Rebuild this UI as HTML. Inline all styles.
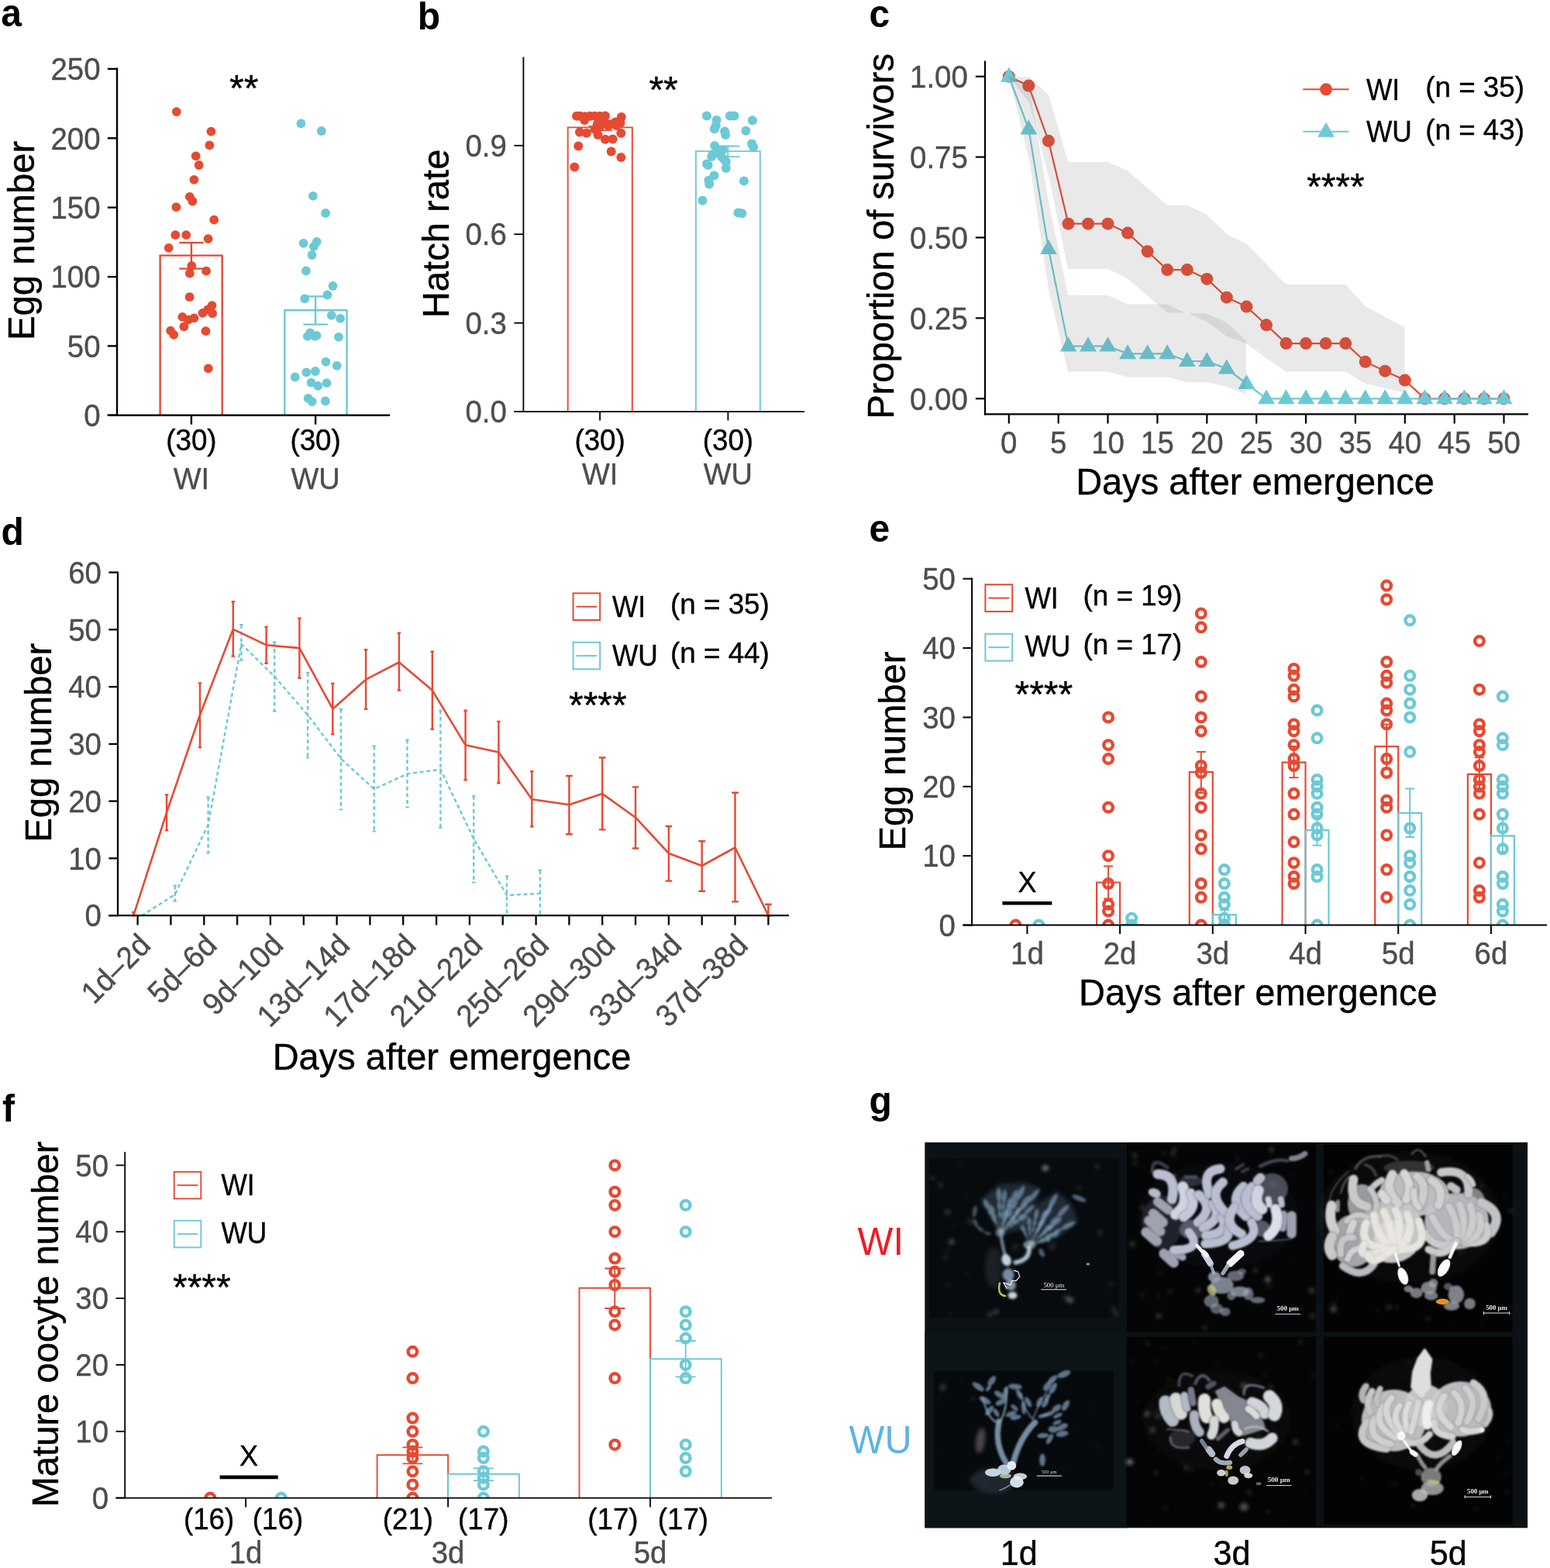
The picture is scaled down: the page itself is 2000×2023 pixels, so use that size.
<!DOCTYPE html>
<html><head><meta charset="utf-8"><title>Figure</title>
<style>
html,body{margin:0;padding:0;background:#fff;}
svg{display:block;font-family:"Liberation Sans", sans-serif;}
svg text{stroke-width:0.4px;stroke-linejoin:round;}
svg text.k{stroke:#000;} svg text.g{stroke:#4d4d4d;}
</style></head>
<body>
<svg width="2000" height="2023" viewBox="0 0 2000 2023">
<rect width="2000" height="2023" fill="#fff"/>
<text transform="translate(1.2 34.4) scale(0.97 1)" font-size="49.5" fill="#000" font-weight="bold" >a</text>
<text transform="translate(538.7 38.4) scale(0.97 1)" font-size="49.5" fill="#000" font-weight="bold" >b</text>
<text transform="translate(1121.6 34.5) scale(0.97 1)" font-size="49.5" fill="#000" font-weight="bold" >c</text>
<text transform="translate(1.5 703.3) scale(0.97 1)" font-size="49.5" fill="#000" font-weight="bold" >d</text>
<text transform="translate(1121.6 699.0) scale(0.97 1)" font-size="49.5" fill="#000" font-weight="bold" >e</text>
<text transform="translate(3.0 1447.2) scale(0.97 1)" font-size="49.5" fill="#000" font-weight="bold" >f</text>
<text transform="translate(1121.6 1437.1) scale(0.97 1)" font-size="49.5" fill="#000" font-weight="bold" >g</text>
<path d="M206.6 535.8V329.6H286.7V535.8" fill="none" stroke="#e54a33" stroke-width="2.4"/>
<path d="M367.3 535.8V400.2H447.5V535.8" fill="none" stroke="#6cc9d6" stroke-width="2.4"/>
<path d="M231.2 313.1H262.6M231.2 346.6H262.6M246.9 313.1V346.6" fill="none" stroke="#e54a33" stroke-width="2.4"/>
<path d="M391.4 382.4H422.9M391.4 418.6H422.9M407.1 382.4V418.6" fill="none" stroke="#6cc9d6" stroke-width="2.4"/>
<circle cx="227.8" cy="144.1" r="5.9" fill="#e54a33" stroke="none" stroke-width="0"/>
<circle cx="272.4" cy="169.6" r="5.9" fill="#e54a33" stroke="none" stroke-width="0"/>
<circle cx="270.3" cy="187.4" r="5.9" fill="#e54a33" stroke="none" stroke-width="0"/>
<circle cx="252.7" cy="201.3" r="5.9" fill="#e54a33" stroke="none" stroke-width="0"/>
<circle cx="256.7" cy="213.0" r="5.9" fill="#e54a33" stroke="none" stroke-width="0"/>
<circle cx="250.4" cy="231.8" r="5.9" fill="#e54a33" stroke="none" stroke-width="0"/>
<circle cx="244.8" cy="253.8" r="5.9" fill="#e54a33" stroke="none" stroke-width="0"/>
<circle cx="248.3" cy="259.5" r="5.9" fill="#e54a33" stroke="none" stroke-width="0"/>
<circle cx="227.4" cy="267.2" r="5.9" fill="#e54a33" stroke="none" stroke-width="0"/>
<circle cx="276.2" cy="283.6" r="5.9" fill="#e54a33" stroke="none" stroke-width="0"/>
<circle cx="226.3" cy="303.2" r="5.9" fill="#e54a33" stroke="none" stroke-width="0"/>
<circle cx="240.2" cy="303.2" r="5.9" fill="#e54a33" stroke="none" stroke-width="0"/>
<circle cx="268.6" cy="308.1" r="5.9" fill="#e54a33" stroke="none" stroke-width="0"/>
<circle cx="217.7" cy="319.8" r="5.9" fill="#e54a33" stroke="none" stroke-width="0"/>
<circle cx="247.3" cy="343.0" r="5.9" fill="#e54a33" stroke="none" stroke-width="0"/>
<circle cx="244.8" cy="352.7" r="5.9" fill="#e54a33" stroke="none" stroke-width="0"/>
<circle cx="266.1" cy="349.7" r="5.9" fill="#e54a33" stroke="none" stroke-width="0"/>
<circle cx="244.6" cy="383.2" r="5.9" fill="#e54a33" stroke="none" stroke-width="0"/>
<circle cx="273.5" cy="394.1" r="5.9" fill="#e54a33" stroke="none" stroke-width="0"/>
<circle cx="268.2" cy="399.4" r="5.9" fill="#e54a33" stroke="none" stroke-width="0"/>
<circle cx="261.5" cy="403.8" r="5.9" fill="#e54a33" stroke="none" stroke-width="0"/>
<circle cx="274.1" cy="404.4" r="5.9" fill="#e54a33" stroke="none" stroke-width="0"/>
<circle cx="235.3" cy="408.8" r="5.9" fill="#e54a33" stroke="none" stroke-width="0"/>
<circle cx="250.4" cy="410.3" r="5.9" fill="#e54a33" stroke="none" stroke-width="0"/>
<circle cx="243.1" cy="412.6" r="5.9" fill="#e54a33" stroke="none" stroke-width="0"/>
<circle cx="237.4" cy="421.4" r="5.9" fill="#e54a33" stroke="none" stroke-width="0"/>
<circle cx="220.1" cy="426.6" r="5.9" fill="#e54a33" stroke="none" stroke-width="0"/>
<circle cx="224.2" cy="431.8" r="5.9" fill="#e54a33" stroke="none" stroke-width="0"/>
<circle cx="265.5" cy="427.2" r="5.9" fill="#e54a33" stroke="none" stroke-width="0"/>
<circle cx="268.8" cy="475.4" r="5.9" fill="#e54a33" stroke="none" stroke-width="0"/>
<circle cx="388.4" cy="159.4" r="5.9" fill="#6cc9d6" stroke="none" stroke-width="0"/>
<circle cx="414.8" cy="169.0" r="5.9" fill="#6cc9d6" stroke="none" stroke-width="0"/>
<circle cx="403.9" cy="252.8" r="5.9" fill="#6cc9d6" stroke="none" stroke-width="0"/>
<circle cx="420.1" cy="275.0" r="5.9" fill="#6cc9d6" stroke="none" stroke-width="0"/>
<circle cx="391.6" cy="313.9" r="5.9" fill="#6cc9d6" stroke="none" stroke-width="0"/>
<circle cx="408.7" cy="312.0" r="5.9" fill="#6cc9d6" stroke="none" stroke-width="0"/>
<circle cx="404.8" cy="318.1" r="5.9" fill="#6cc9d6" stroke="none" stroke-width="0"/>
<circle cx="402.5" cy="329.0" r="5.9" fill="#6cc9d6" stroke="none" stroke-width="0"/>
<circle cx="394.9" cy="349.3" r="5.9" fill="#6cc9d6" stroke="none" stroke-width="0"/>
<circle cx="429.5" cy="369.0" r="5.9" fill="#6cc9d6" stroke="none" stroke-width="0"/>
<circle cx="422.4" cy="380.5" r="5.9" fill="#6cc9d6" stroke="none" stroke-width="0"/>
<circle cx="393.2" cy="385.3" r="5.9" fill="#6cc9d6" stroke="none" stroke-width="0"/>
<circle cx="427.8" cy="406.9" r="5.9" fill="#6cc9d6" stroke="none" stroke-width="0"/>
<circle cx="439.1" cy="410.9" r="5.9" fill="#6cc9d6" stroke="none" stroke-width="0"/>
<circle cx="400.2" cy="429.3" r="5.9" fill="#6cc9d6" stroke="none" stroke-width="0"/>
<circle cx="396.8" cy="433.9" r="5.9" fill="#6cc9d6" stroke="none" stroke-width="0"/>
<circle cx="408.5" cy="432.9" r="5.9" fill="#6cc9d6" stroke="none" stroke-width="0"/>
<circle cx="406.4" cy="433.9" r="5.9" fill="#6cc9d6" stroke="none" stroke-width="0"/>
<circle cx="437.0" cy="434.8" r="5.9" fill="#6cc9d6" stroke="none" stroke-width="0"/>
<circle cx="420.5" cy="466.8" r="5.9" fill="#6cc9d6" stroke="none" stroke-width="0"/>
<circle cx="434.7" cy="471.8" r="5.9" fill="#6cc9d6" stroke="none" stroke-width="0"/>
<circle cx="395.3" cy="480.4" r="5.9" fill="#6cc9d6" stroke="none" stroke-width="0"/>
<circle cx="406.9" cy="479.0" r="5.9" fill="#6cc9d6" stroke="none" stroke-width="0"/>
<circle cx="380.7" cy="486.5" r="5.9" fill="#6cc9d6" stroke="none" stroke-width="0"/>
<circle cx="401.6" cy="493.6" r="5.9" fill="#6cc9d6" stroke="none" stroke-width="0"/>
<circle cx="410.2" cy="497.8" r="5.9" fill="#6cc9d6" stroke="none" stroke-width="0"/>
<circle cx="421.5" cy="494.2" r="5.9" fill="#6cc9d6" stroke="none" stroke-width="0"/>
<circle cx="397.6" cy="513.9" r="5.9" fill="#6cc9d6" stroke="none" stroke-width="0"/>
<circle cx="402.7" cy="518.1" r="5.9" fill="#6cc9d6" stroke="none" stroke-width="0"/>
<circle cx="419.8" cy="517.3" r="5.9" fill="#6cc9d6" stroke="none" stroke-width="0"/>
<line x1="151.0" y1="87.6" x2="151.0" y2="537.0" stroke="#000" stroke-width="2.4" />
<line x1="138.8" y1="535.8" x2="503.2" y2="535.8" stroke="#000" stroke-width="2.4" />
<line x1="138.8" y1="535.8" x2="151.0" y2="535.8" stroke="#000" stroke-width="2.4" />
<text transform="translate(129.5 550.0) scale(0.965 1)" font-size="39.8" fill="#4d4d4d" class="g" text-anchor="end" >0</text>
<line x1="138.8" y1="446.4" x2="151.0" y2="446.4" stroke="#000" stroke-width="2.4" />
<text transform="translate(129.5 460.6) scale(0.965 1)" font-size="39.8" fill="#4d4d4d" class="g" text-anchor="end" >50</text>
<line x1="138.8" y1="357.1" x2="151.0" y2="357.1" stroke="#000" stroke-width="2.4" />
<text transform="translate(129.5 371.3) scale(0.965 1)" font-size="39.8" fill="#4d4d4d" class="g" text-anchor="end" >100</text>
<line x1="138.8" y1="267.7" x2="151.0" y2="267.7" stroke="#000" stroke-width="2.4" />
<text transform="translate(129.5 281.9) scale(0.965 1)" font-size="39.8" fill="#4d4d4d" class="g" text-anchor="end" >150</text>
<line x1="138.8" y1="178.3" x2="151.0" y2="178.3" stroke="#000" stroke-width="2.4" />
<text transform="translate(129.5 192.5) scale(0.965 1)" font-size="39.8" fill="#4d4d4d" class="g" text-anchor="end" >200</text>
<line x1="138.8" y1="88.9" x2="151.0" y2="88.9" stroke="#000" stroke-width="2.4" />
<text transform="translate(129.5 103.1) scale(0.965 1)" font-size="39.8" fill="#4d4d4d" class="g" text-anchor="end" >250</text>
<line x1="246.9" y1="535.8" x2="246.9" y2="547.6" stroke="#000" stroke-width="2.4" />
<line x1="407.1" y1="535.8" x2="407.1" y2="547.6" stroke="#000" stroke-width="2.4" />
<text transform="translate(246.9 580.8) scale(0.968 1)" font-size="38" fill="#000" class="k" text-anchor="middle" >(30)</text>
<text transform="translate(246.9 630.6) scale(0.984 1)" font-size="38.6" fill="#4d4d4d" class="g" text-anchor="middle" >WI</text>
<text transform="translate(407.1 580.8) scale(0.968 1)" font-size="38" fill="#000" class="k" text-anchor="middle" >(30)</text>
<text transform="translate(407.1 630.6) scale(0.984 1)" font-size="38.6" fill="#4d4d4d" class="g" text-anchor="middle" >WU</text>
<text transform="translate(43.6,310.4) rotate(-90) scale(0.975 1)" font-size="48.4" text-anchor="middle" fill="#000" class="k">Egg number</text>
<text x="314.8" y="130.3" font-size="48" fill="#000" class="k" text-anchor="middle" >**</text>
<path d="M732.7 531.1V164.4H815.8V531.1" fill="none" stroke="#e54a33" stroke-width="1.9"/>
<path d="M897.9 531.1V195.1H980.8V531.1" fill="none" stroke="#6cc9d6" stroke-width="1.9"/>
<path d="M759.7 162.9H790.3M759.7 168.1H790.3M775.0 162.9V168.1" fill="none" stroke="#e54a33" stroke-width="1.9"/>
<path d="M924.2 188.5H954.2M924.2 202.1H954.2M939.2 188.5V202.1" fill="none" stroke="#6cc9d6" stroke-width="1.9"/>
<circle cx="744.0" cy="149.8" r="6.0" fill="#e54a33" stroke="none" stroke-width="0"/>
<circle cx="748.7" cy="149.8" r="6.0" fill="#e54a33" stroke="none" stroke-width="0"/>
<circle cx="755.0" cy="150.3" r="6.0" fill="#e54a33" stroke="none" stroke-width="0"/>
<circle cx="761.3" cy="149.8" r="6.0" fill="#e54a33" stroke="none" stroke-width="0"/>
<circle cx="767.5" cy="149.8" r="6.0" fill="#e54a33" stroke="none" stroke-width="0"/>
<circle cx="773.8" cy="149.8" r="6.0" fill="#e54a33" stroke="none" stroke-width="0"/>
<circle cx="780.9" cy="149.5" r="6.0" fill="#e54a33" stroke="none" stroke-width="0"/>
<circle cx="754.2" cy="155.0" r="6.0" fill="#e54a33" stroke="none" stroke-width="0"/>
<circle cx="801.8" cy="151.1" r="6.0" fill="#e54a33" stroke="none" stroke-width="0"/>
<circle cx="800.5" cy="158.6" r="6.0" fill="#e54a33" stroke="none" stroke-width="0"/>
<circle cx="794.2" cy="157.4" r="6.0" fill="#e54a33" stroke="none" stroke-width="0"/>
<circle cx="788.0" cy="160.5" r="6.0" fill="#e54a33" stroke="none" stroke-width="0"/>
<circle cx="781.7" cy="158.9" r="6.0" fill="#e54a33" stroke="none" stroke-width="0"/>
<circle cx="775.4" cy="157.4" r="6.0" fill="#e54a33" stroke="none" stroke-width="0"/>
<circle cx="770.7" cy="160.5" r="6.0" fill="#e54a33" stroke="none" stroke-width="0"/>
<circle cx="773.8" cy="163.7" r="6.0" fill="#e54a33" stroke="none" stroke-width="0"/>
<circle cx="767.5" cy="166.8" r="6.0" fill="#e54a33" stroke="none" stroke-width="0"/>
<circle cx="747.9" cy="170.4" r="6.0" fill="#e54a33" stroke="none" stroke-width="0"/>
<circle cx="756.9" cy="171.8" r="6.0" fill="#e54a33" stroke="none" stroke-width="0"/>
<circle cx="771.5" cy="173.9" r="6.0" fill="#e54a33" stroke="none" stroke-width="0"/>
<circle cx="801.3" cy="171.8" r="6.0" fill="#e54a33" stroke="none" stroke-width="0"/>
<circle cx="780.9" cy="179.7" r="6.0" fill="#e54a33" stroke="none" stroke-width="0"/>
<circle cx="790.6" cy="179.4" r="6.0" fill="#e54a33" stroke="none" stroke-width="0"/>
<circle cx="746.3" cy="188.5" r="6.0" fill="#e54a33" stroke="none" stroke-width="0"/>
<circle cx="788.7" cy="195.4" r="6.0" fill="#e54a33" stroke="none" stroke-width="0"/>
<circle cx="801.3" cy="202.9" r="6.0" fill="#e54a33" stroke="none" stroke-width="0"/>
<circle cx="741.3" cy="215.5" r="6.0" fill="#e54a33" stroke="none" stroke-width="0"/>
<circle cx="778.5" cy="154.2" r="6.0" fill="#e54a33" stroke="none" stroke-width="0"/>
<circle cx="784.8" cy="162.1" r="6.0" fill="#e54a33" stroke="none" stroke-width="0"/>
<circle cx="795.8" cy="162.1" r="6.0" fill="#e54a33" stroke="none" stroke-width="0"/>
<circle cx="912.0" cy="149.5" r="6.0" fill="#6cc9d6" stroke="none" stroke-width="0"/>
<circle cx="941.9" cy="149.5" r="6.0" fill="#6cc9d6" stroke="none" stroke-width="0"/>
<circle cx="947.4" cy="149.5" r="6.0" fill="#6cc9d6" stroke="none" stroke-width="0"/>
<circle cx="924.6" cy="155.0" r="6.0" fill="#6cc9d6" stroke="none" stroke-width="0"/>
<circle cx="970.9" cy="155.3" r="6.0" fill="#6cc9d6" stroke="none" stroke-width="0"/>
<circle cx="923.8" cy="162.1" r="6.0" fill="#6cc9d6" stroke="none" stroke-width="0"/>
<circle cx="921.8" cy="166.3" r="6.0" fill="#6cc9d6" stroke="none" stroke-width="0"/>
<circle cx="935.1" cy="169.5" r="6.0" fill="#6cc9d6" stroke="none" stroke-width="0"/>
<circle cx="936.1" cy="173.9" r="6.0" fill="#6cc9d6" stroke="none" stroke-width="0"/>
<circle cx="962.4" cy="168.7" r="6.0" fill="#6cc9d6" stroke="none" stroke-width="0"/>
<circle cx="922.2" cy="188.0" r="6.0" fill="#6cc9d6" stroke="none" stroke-width="0"/>
<circle cx="970.1" cy="185.6" r="6.0" fill="#6cc9d6" stroke="none" stroke-width="0"/>
<circle cx="972.2" cy="190.0" r="6.0" fill="#6cc9d6" stroke="none" stroke-width="0"/>
<circle cx="932.4" cy="193.5" r="6.0" fill="#6cc9d6" stroke="none" stroke-width="0"/>
<circle cx="919.9" cy="199.0" r="6.0" fill="#6cc9d6" stroke="none" stroke-width="0"/>
<circle cx="918.3" cy="202.1" r="6.0" fill="#6cc9d6" stroke="none" stroke-width="0"/>
<circle cx="930.9" cy="202.1" r="6.0" fill="#6cc9d6" stroke="none" stroke-width="0"/>
<circle cx="934.0" cy="205.3" r="6.0" fill="#6cc9d6" stroke="none" stroke-width="0"/>
<circle cx="936.8" cy="208.4" r="6.0" fill="#6cc9d6" stroke="none" stroke-width="0"/>
<circle cx="912.0" cy="211.6" r="6.0" fill="#6cc9d6" stroke="none" stroke-width="0"/>
<circle cx="913.6" cy="213.1" r="6.0" fill="#6cc9d6" stroke="none" stroke-width="0"/>
<circle cx="936.8" cy="217.1" r="6.0" fill="#6cc9d6" stroke="none" stroke-width="0"/>
<circle cx="921.5" cy="226.5" r="6.0" fill="#6cc9d6" stroke="none" stroke-width="0"/>
<circle cx="914.4" cy="232.8" r="6.0" fill="#6cc9d6" stroke="none" stroke-width="0"/>
<circle cx="915.2" cy="237.5" r="6.0" fill="#6cc9d6" stroke="none" stroke-width="0"/>
<circle cx="959.9" cy="233.4" r="6.0" fill="#6cc9d6" stroke="none" stroke-width="0"/>
<circle cx="906.5" cy="258.7" r="6.0" fill="#6cc9d6" stroke="none" stroke-width="0"/>
<circle cx="952.4" cy="274.4" r="6.0" fill="#6cc9d6" stroke="none" stroke-width="0"/>
<circle cx="957.3" cy="275.2" r="6.0" fill="#6cc9d6" stroke="none" stroke-width="0"/>
<circle cx="927.7" cy="196.6" r="6.0" fill="#6cc9d6" stroke="none" stroke-width="0"/>
<line x1="675.4" y1="73.4" x2="675.4" y2="532.0" stroke="#000" stroke-width="1.8" />
<line x1="663.4" y1="531.1" x2="1038.0" y2="531.1" stroke="#000" stroke-width="1.8" />
<line x1="663.4" y1="531.1" x2="675.4" y2="531.1" stroke="#000" stroke-width="1.8" />
<text transform="translate(653.9 545.3) scale(0.965 1)" font-size="39.8" fill="#4d4d4d" class="g" text-anchor="end" >0.0</text>
<line x1="663.4" y1="416.7" x2="675.4" y2="416.7" stroke="#000" stroke-width="1.8" />
<text transform="translate(653.9 430.9) scale(0.965 1)" font-size="39.8" fill="#4d4d4d" class="g" text-anchor="end" >0.3</text>
<line x1="663.4" y1="302.2" x2="675.4" y2="302.2" stroke="#000" stroke-width="1.8" />
<text transform="translate(653.9 316.4) scale(0.965 1)" font-size="39.8" fill="#4d4d4d" class="g" text-anchor="end" >0.6</text>
<line x1="663.4" y1="187.8" x2="675.4" y2="187.8" stroke="#000" stroke-width="1.8" />
<text transform="translate(653.9 201.9) scale(0.965 1)" font-size="39.8" fill="#4d4d4d" class="g" text-anchor="end" >0.9</text>
<line x1="774.1" y1="531.1" x2="774.1" y2="542.5" stroke="#000" stroke-width="1.8" />
<line x1="939.4" y1="531.1" x2="939.4" y2="542.5" stroke="#000" stroke-width="1.8" />
<text transform="translate(774.1 580.8) scale(0.968 1)" font-size="38" fill="#000" class="k" text-anchor="middle" >(30)</text>
<text transform="translate(774.1 625.0) scale(0.984 1)" font-size="38.6" fill="#4d4d4d" class="g" text-anchor="middle" >WI</text>
<text transform="translate(939.4 580.8) scale(0.968 1)" font-size="38" fill="#000" class="k" text-anchor="middle" >(30)</text>
<text transform="translate(939.4 625.0) scale(0.984 1)" font-size="38.6" fill="#4d4d4d" class="g" text-anchor="middle" >WU</text>
<text transform="translate(579.3,301.4) rotate(-90) scale(0.975 1)" font-size="48.4" text-anchor="middle" fill="#000" class="k">Hatch rate</text>
<text x="856.1" y="132.4" font-size="48" fill="#000" class="k" text-anchor="middle" >**</text>
<polyline points="1301.8,98.7 1327.3,110.6 1352.9,181.8 1378.5,288.7 1404.0,288.7 1429.5,288.7 1455.1,300.6 1480.6,324.3 1506.2,348.1 1531.8,348.1 1557.3,359.9 1582.8,383.7 1608.4,395.6 1634.0,419.3 1659.5,443.1 1685.0,443.1 1710.6,443.1 1736.2,443.1 1761.7,466.8 1787.2,478.7 1812.8,490.6 1838.3,514.3 1863.9,514.3 1889.4,514.3 1915.0,514.3 1940.5,514.3" fill="none" stroke="#e54a33" stroke-width="2.2" stroke-linejoin="round"/>
<circle cx="1301.8" cy="98.7" r="8.0" fill="#e54a33" stroke="none" stroke-width="0"/>
<circle cx="1327.3" cy="110.6" r="8.0" fill="#e54a33" stroke="none" stroke-width="0"/>
<circle cx="1352.9" cy="181.8" r="8.0" fill="#e54a33" stroke="none" stroke-width="0"/>
<circle cx="1378.5" cy="288.7" r="8.0" fill="#e54a33" stroke="none" stroke-width="0"/>
<circle cx="1404.0" cy="288.7" r="8.0" fill="#e54a33" stroke="none" stroke-width="0"/>
<circle cx="1429.5" cy="288.7" r="8.0" fill="#e54a33" stroke="none" stroke-width="0"/>
<circle cx="1455.1" cy="300.6" r="8.0" fill="#e54a33" stroke="none" stroke-width="0"/>
<circle cx="1480.6" cy="324.3" r="8.0" fill="#e54a33" stroke="none" stroke-width="0"/>
<circle cx="1506.2" cy="348.1" r="8.0" fill="#e54a33" stroke="none" stroke-width="0"/>
<circle cx="1531.8" cy="348.1" r="8.0" fill="#e54a33" stroke="none" stroke-width="0"/>
<circle cx="1557.3" cy="359.9" r="8.0" fill="#e54a33" stroke="none" stroke-width="0"/>
<circle cx="1582.8" cy="383.7" r="8.0" fill="#e54a33" stroke="none" stroke-width="0"/>
<circle cx="1608.4" cy="395.6" r="8.0" fill="#e54a33" stroke="none" stroke-width="0"/>
<circle cx="1634.0" cy="419.3" r="8.0" fill="#e54a33" stroke="none" stroke-width="0"/>
<circle cx="1659.5" cy="443.1" r="8.0" fill="#e54a33" stroke="none" stroke-width="0"/>
<circle cx="1685.0" cy="443.1" r="8.0" fill="#e54a33" stroke="none" stroke-width="0"/>
<circle cx="1710.6" cy="443.1" r="8.0" fill="#e54a33" stroke="none" stroke-width="0"/>
<circle cx="1736.2" cy="443.1" r="8.0" fill="#e54a33" stroke="none" stroke-width="0"/>
<circle cx="1761.7" cy="466.8" r="8.0" fill="#e54a33" stroke="none" stroke-width="0"/>
<circle cx="1787.2" cy="478.7" r="8.0" fill="#e54a33" stroke="none" stroke-width="0"/>
<circle cx="1812.8" cy="490.6" r="8.0" fill="#e54a33" stroke="none" stroke-width="0"/>
<circle cx="1838.3" cy="514.3" r="8.0" fill="#e54a33" stroke="none" stroke-width="0"/>
<circle cx="1863.9" cy="514.3" r="8.0" fill="#e54a33" stroke="none" stroke-width="0"/>
<circle cx="1889.4" cy="514.3" r="8.0" fill="#e54a33" stroke="none" stroke-width="0"/>
<circle cx="1915.0" cy="514.3" r="8.0" fill="#e54a33" stroke="none" stroke-width="0"/>
<circle cx="1940.5" cy="514.3" r="8.0" fill="#e54a33" stroke="none" stroke-width="0"/>
<polyline points="1301.8,98.7 1327.3,166.4 1352.9,321.0 1378.5,446.6 1404.0,446.6 1429.5,446.6 1455.1,456.3 1480.6,456.3 1506.2,456.3 1531.8,466.0 1557.3,466.0 1582.8,475.6 1608.4,495.0 1634.0,514.3 1659.5,514.3 1685.0,514.3 1710.6,514.3 1736.2,514.3 1761.7,514.3 1787.2,514.3 1812.8,514.3 1838.3,514.3 1863.9,514.3 1889.4,514.3 1915.0,514.3 1940.5,514.3" fill="none" stroke="#6cc9d6" stroke-width="2.2" stroke-linejoin="round"/>
<polygon points="1301.8,86.7 1290.9,105.7 1312.7,105.7" fill="#6cc9d6"/>
<polygon points="1327.3,154.4 1316.4,173.4 1338.2,173.4" fill="#6cc9d6"/>
<polygon points="1352.9,309.0 1342.0,328.0 1363.8,328.0" fill="#6cc9d6"/>
<polygon points="1378.5,434.6 1367.5,453.6 1389.4,453.6" fill="#6cc9d6"/>
<polygon points="1404.0,434.6 1393.1,453.6 1414.9,453.6" fill="#6cc9d6"/>
<polygon points="1429.5,434.6 1418.6,453.6 1440.5,453.6" fill="#6cc9d6"/>
<polygon points="1455.1,444.3 1444.2,463.3 1466.0,463.3" fill="#6cc9d6"/>
<polygon points="1480.6,444.3 1469.7,463.3 1491.5,463.3" fill="#6cc9d6"/>
<polygon points="1506.2,444.3 1495.3,463.3 1517.1,463.3" fill="#6cc9d6"/>
<polygon points="1531.8,454.0 1520.8,473.0 1542.7,473.0" fill="#6cc9d6"/>
<polygon points="1557.3,454.0 1546.4,473.0 1568.2,473.0" fill="#6cc9d6"/>
<polygon points="1582.8,463.6 1571.9,482.6 1593.8,482.6" fill="#6cc9d6"/>
<polygon points="1608.4,483.0 1597.5,502.0 1619.3,502.0" fill="#6cc9d6"/>
<polygon points="1634.0,502.3 1623.0,521.3 1644.9,521.3" fill="#6cc9d6"/>
<polygon points="1659.5,502.3 1648.6,521.3 1670.4,521.3" fill="#6cc9d6"/>
<polygon points="1685.0,502.3 1674.1,521.3 1696.0,521.3" fill="#6cc9d6"/>
<polygon points="1710.6,502.3 1699.7,521.3 1721.5,521.3" fill="#6cc9d6"/>
<polygon points="1736.2,502.3 1725.2,521.3 1747.1,521.3" fill="#6cc9d6"/>
<polygon points="1761.7,502.3 1750.8,521.3 1772.6,521.3" fill="#6cc9d6"/>
<polygon points="1787.2,502.3 1776.3,521.3 1798.2,521.3" fill="#6cc9d6"/>
<polygon points="1812.8,502.3 1801.9,521.3 1823.7,521.3" fill="#6cc9d6"/>
<polygon points="1838.3,502.3 1827.4,521.3 1849.2,521.3" fill="#6cc9d6"/>
<polygon points="1863.9,502.3 1853.0,521.3 1874.8,521.3" fill="#6cc9d6"/>
<polygon points="1889.4,502.3 1878.5,521.3 1900.3,521.3" fill="#6cc9d6"/>
<polygon points="1915.0,502.3 1904.1,521.3 1925.9,521.3" fill="#6cc9d6"/>
<polygon points="1940.5,502.3 1929.6,521.3 1951.5,521.3" fill="#6cc9d6"/>
<polygon points="1301.8,98.7 1328.0,99.4 1353.1,122.4 1378.2,209.1 1429.5,209.1 1455.1,220.2 1506.0,264.8 1531.5,264.8 1556.9,276.8 1582.8,301.9 1608.6,314.5 1633.5,340.6 1659.3,366.8 1736.1,366.8 1761.3,395.1 1787.0,408.7 1812.6,422.3 1812.6,507.1 1787.0,500.8 1761.3,494.6 1736.1,479.5 1659.3,479.5 1633.5,462.1 1608.6,443.2 1582.8,433.8 1556.9,415.0 1531.5,403.5 1506.0,403.5 1455.1,359.5 1429.5,346.9 1378.2,346.9 1353.1,227.5 1328.0,132.3 1301.8,98.7" fill="rgba(105,110,110,0.15)"/>
<polygon points="1301.8,98.7 1328.0,112.4 1353.1,260.6 1378.2,381.0 1429.5,381.0 1455.1,392.6 1506.0,392.6 1531.5,404.5 1556.9,404.5 1582.8,416.0 1608.0,439.7 1608.0,508.8 1582.8,498.7 1556.9,492.9 1531.5,492.9 1506.0,486.6 1455.1,486.6 1429.5,479.5 1378.2,479.5 1353.1,374.1 1328.0,206.6 1301.8,98.7" fill="rgba(105,110,110,0.15)"/>
<line x1="1271.0" y1="78.4" x2="1271.0" y2="535.4" stroke="#000" stroke-width="2.2" />
<line x1="1269.9" y1="534.3" x2="1972.0" y2="534.3" stroke="#000" stroke-width="2.2" />
<line x1="1258.8" y1="514.3" x2="1271.0" y2="514.3" stroke="#000" stroke-width="2.2" />
<text transform="translate(1248.8 528.5) scale(0.965 1)" font-size="39.8" fill="#4d4d4d" class="g" text-anchor="end" >0.00</text>
<line x1="1258.8" y1="410.4" x2="1271.0" y2="410.4" stroke="#000" stroke-width="2.2" />
<text transform="translate(1248.8 424.6) scale(0.965 1)" font-size="39.8" fill="#4d4d4d" class="g" text-anchor="end" >0.25</text>
<line x1="1258.8" y1="306.5" x2="1271.0" y2="306.5" stroke="#000" stroke-width="2.2" />
<text transform="translate(1248.8 320.7) scale(0.965 1)" font-size="39.8" fill="#4d4d4d" class="g" text-anchor="end" >0.50</text>
<line x1="1258.8" y1="202.6" x2="1271.0" y2="202.6" stroke="#000" stroke-width="2.2" />
<text transform="translate(1248.8 216.8) scale(0.965 1)" font-size="39.8" fill="#4d4d4d" class="g" text-anchor="end" >0.75</text>
<line x1="1258.8" y1="98.7" x2="1271.0" y2="98.7" stroke="#000" stroke-width="2.2" />
<text transform="translate(1248.8 112.9) scale(0.965 1)" font-size="39.8" fill="#4d4d4d" class="g" text-anchor="end" >1.00</text>
<line x1="1301.8" y1="534.3" x2="1301.8" y2="546.5" stroke="#000" stroke-width="2.2" />
<text transform="translate(1301.8 584.6) scale(0.965 1)" font-size="39.8" fill="#4d4d4d" class="g" text-anchor="middle" >0</text>
<line x1="1365.7" y1="534.3" x2="1365.7" y2="546.5" stroke="#000" stroke-width="2.2" />
<text transform="translate(1365.7 584.6) scale(0.965 1)" font-size="39.8" fill="#4d4d4d" class="g" text-anchor="middle" >5</text>
<line x1="1429.5" y1="534.3" x2="1429.5" y2="546.5" stroke="#000" stroke-width="2.2" />
<text transform="translate(1429.5 584.6) scale(0.965 1)" font-size="39.8" fill="#4d4d4d" class="g" text-anchor="middle" >10</text>
<line x1="1493.4" y1="534.3" x2="1493.4" y2="546.5" stroke="#000" stroke-width="2.2" />
<text transform="translate(1493.4 584.6) scale(0.965 1)" font-size="39.8" fill="#4d4d4d" class="g" text-anchor="middle" >15</text>
<line x1="1557.3" y1="534.3" x2="1557.3" y2="546.5" stroke="#000" stroke-width="2.2" />
<text transform="translate(1557.3 584.6) scale(0.965 1)" font-size="39.8" fill="#4d4d4d" class="g" text-anchor="middle" >20</text>
<line x1="1621.2" y1="534.3" x2="1621.2" y2="546.5" stroke="#000" stroke-width="2.2" />
<text transform="translate(1621.2 584.6) scale(0.965 1)" font-size="39.8" fill="#4d4d4d" class="g" text-anchor="middle" >25</text>
<line x1="1685.0" y1="534.3" x2="1685.0" y2="546.5" stroke="#000" stroke-width="2.2" />
<text transform="translate(1685.0 584.6) scale(0.965 1)" font-size="39.8" fill="#4d4d4d" class="g" text-anchor="middle" >30</text>
<line x1="1748.9" y1="534.3" x2="1748.9" y2="546.5" stroke="#000" stroke-width="2.2" />
<text transform="translate(1748.9 584.6) scale(0.965 1)" font-size="39.8" fill="#4d4d4d" class="g" text-anchor="middle" >35</text>
<line x1="1812.8" y1="534.3" x2="1812.8" y2="546.5" stroke="#000" stroke-width="2.2" />
<text transform="translate(1812.8 584.6) scale(0.965 1)" font-size="39.8" fill="#4d4d4d" class="g" text-anchor="middle" >40</text>
<line x1="1876.7" y1="534.3" x2="1876.7" y2="546.5" stroke="#000" stroke-width="2.2" />
<text transform="translate(1876.7 584.6) scale(0.965 1)" font-size="39.8" fill="#4d4d4d" class="g" text-anchor="middle" >45</text>
<line x1="1940.5" y1="534.3" x2="1940.5" y2="546.5" stroke="#000" stroke-width="2.2" />
<text transform="translate(1940.5 584.6) scale(0.965 1)" font-size="39.8" fill="#4d4d4d" class="g" text-anchor="middle" >50</text>
<text transform="translate(1619.5 637.8) scale(0.972 1)" font-size="48.4" fill="#000" class="k" text-anchor="middle" >Days after emergence</text>
<text transform="translate(1152.5,304.9) rotate(-90) scale(0.975 1)" font-size="48.4" text-anchor="middle" fill="#000" class="k">Proportion of survivors</text>
<line x1="1681.3" y1="115.3" x2="1740.5" y2="115.3" stroke="#e54a33" stroke-width="2.0" />
<circle cx="1711.0" cy="115.3" r="8" fill="#e54a33" stroke="none" stroke-width="0"/>
<line x1="1681.3" y1="169.7" x2="1740.5" y2="169.7" stroke="#6cc9d6" stroke-width="2.0" />
<polygon points="1711.0,157.7 1700.1,176.7 1721.9,176.7" fill="#6cc9d6"/>
<text transform="translate(1763.0 128.7) scale(0.915 1)" font-size="38.6" fill="#000" class="k" >WI</text>
<text x="1839.2" y="125.1" font-size="36.8" fill="#000" class="k" >(n = 35)</text>
<text transform="translate(1763.0 183.1) scale(0.915 1)" font-size="38.6" fill="#000" class="k" >WU</text>
<text x="1839.2" y="179.5" font-size="36.8" fill="#000" class="k" >(n = 43)</text>
<text x="1686.0" y="256.6" font-size="48" fill="#000" class="k" >****</text>
<polyline points="182.9,1181.2 225.7,1154.2 268.6,1063.9 311.4,830.9 354.2,872.8 397.1,922.5 439.9,978.8 482.7,1018.1 525.5,998.4 568.4,992.7 611.2,1082.2 654.0,1155.0 696.9,1152.9" fill="none" stroke="#6cc9d6" stroke-width="2.4" stroke-dasharray="5 3.6"/>
<path d="M223.5 1142.4h4.4M223.5 1162.8h4.4" stroke="#6cc9d6" stroke-width="2" fill="none"/>
<path d="M225.7 1142.4V1162.8" stroke="#6cc9d6" stroke-width="2.4" fill="none" stroke-dasharray="5 3.6"/>
<path d="M266.4 1028.5h4.4M266.4 1100.5h4.4" stroke="#6cc9d6" stroke-width="2" fill="none"/>
<path d="M268.6 1028.5V1100.5" stroke="#6cc9d6" stroke-width="2.4" fill="none" stroke-dasharray="5 3.6"/>
<path d="M309.2 806.0h4.4M309.2 851.8h4.4" stroke="#6cc9d6" stroke-width="2" fill="none"/>
<path d="M311.4 806.0V851.8" stroke="#6cc9d6" stroke-width="2.4" fill="none" stroke-dasharray="5 3.6"/>
<path d="M352.0 828.3h4.4M352.0 917.8h4.4" stroke="#6cc9d6" stroke-width="2" fill="none"/>
<path d="M354.2 828.3V917.8" stroke="#6cc9d6" stroke-width="2.4" fill="none" stroke-dasharray="5 3.6"/>
<path d="M394.9 868.1h4.4M394.9 977.5h4.4" stroke="#6cc9d6" stroke-width="2" fill="none"/>
<path d="M397.1 868.1V977.5" stroke="#6cc9d6" stroke-width="2.4" fill="none" stroke-dasharray="5 3.6"/>
<path d="M437.7 914.7h4.4M437.7 1044.5h4.4" stroke="#6cc9d6" stroke-width="2" fill="none"/>
<path d="M439.9 914.7V1044.5" stroke="#6cc9d6" stroke-width="2.4" fill="none" stroke-dasharray="5 3.6"/>
<path d="M480.5 962.6h4.4M480.5 1072.5h4.4" stroke="#6cc9d6" stroke-width="2" fill="none"/>
<path d="M482.7 962.6V1072.5" stroke="#6cc9d6" stroke-width="2.4" fill="none" stroke-dasharray="5 3.6"/>
<path d="M523.3 954.5h4.4M523.3 1041.6h4.4" stroke="#6cc9d6" stroke-width="2" fill="none"/>
<path d="M525.5 954.5V1041.6" stroke="#6cc9d6" stroke-width="2.4" fill="none" stroke-dasharray="5 3.6"/>
<path d="M566.2 916.5h4.4M566.2 1067.8h4.4" stroke="#6cc9d6" stroke-width="2" fill="none"/>
<path d="M568.4 916.5V1067.8" stroke="#6cc9d6" stroke-width="2.4" fill="none" stroke-dasharray="5 3.6"/>
<path d="M609.0 1026.7h4.4M609.0 1138.5h4.4" stroke="#6cc9d6" stroke-width="2" fill="none"/>
<path d="M611.2 1026.7V1138.5" stroke="#6cc9d6" stroke-width="2.4" fill="none" stroke-dasharray="5 3.6"/>
<path d="M651.8 1130.6h4.4M651.8 1181.2h4.4" stroke="#6cc9d6" stroke-width="2" fill="none"/>
<path d="M654.0 1130.6V1181.2" stroke="#6cc9d6" stroke-width="2.4" fill="none" stroke-dasharray="5 3.6"/>
<path d="M694.7 1122.8h4.4M694.7 1181.2h4.4" stroke="#6cc9d6" stroke-width="2" fill="none"/>
<path d="M696.9 1122.8V1181.2" stroke="#6cc9d6" stroke-width="2.4" fill="none" stroke-dasharray="5 3.6"/>
<polyline points="172.3,1181.2 215.1,1048.2 258.0,922.5 300.8,811.8 343.6,832.2 386.4,836.1 429.3,914.7 472.1,876.7 514.9,854.5 557.8,890.6 600.6,961.3 643.4,970.4 686.3,1031.2 734.4,1038.2 777.2,1024.1 820.0,1054.7 862.9,1101.0 905.7,1117.0 948.5,1093.5 991.4,1181.2" fill="none" stroke="#e54a33" stroke-width="2.6" stroke-linejoin="round"/>
<path d="M170.1 1177.0H174.5M170.1 1181.2H174.5M172.3 1177.0V1181.2" fill="none" stroke="#e54a33" stroke-width="2.4"/>
<path d="M212.9 1025.4H217.3M212.9 1071.2H217.3M215.1 1025.4V1071.2" fill="none" stroke="#e54a33" stroke-width="2.4"/>
<path d="M255.8 881.4H260.2M255.8 964.4H260.2M258.0 881.4V964.4" fill="none" stroke="#e54a33" stroke-width="2.4"/>
<path d="M298.6 776.2H303.0M298.6 846.6H303.0M300.8 776.2V846.6" fill="none" stroke="#e54a33" stroke-width="2.4"/>
<path d="M341.4 808.9H345.8M341.4 855.8H345.8M343.6 808.9V855.8" fill="none" stroke="#e54a33" stroke-width="2.4"/>
<path d="M384.2 797.6H388.6M384.2 874.9H388.6M386.4 797.6V874.9" fill="none" stroke="#e54a33" stroke-width="2.4"/>
<path d="M427.1 881.9H431.5M427.1 947.4H431.5M429.3 881.9V947.4" fill="none" stroke="#e54a33" stroke-width="2.4"/>
<path d="M469.9 838.2H474.3M469.9 914.7H474.3M472.1 838.2V914.7" fill="none" stroke="#e54a33" stroke-width="2.4"/>
<path d="M512.7 816.8H517.1M512.7 890.6H517.1M514.9 816.8V890.6" fill="none" stroke="#e54a33" stroke-width="2.4"/>
<path d="M555.6 840.8H560.0M555.6 940.8H560.0M557.8 840.8V940.8" fill="none" stroke="#e54a33" stroke-width="2.4"/>
<path d="M598.4 916.8H602.8M598.4 1006.3H602.8M600.6 916.8V1006.3" fill="none" stroke="#e54a33" stroke-width="2.4"/>
<path d="M641.2 930.9H645.6M641.2 1010.2H645.6M643.4 930.9V1010.2" fill="none" stroke="#e54a33" stroke-width="2.4"/>
<path d="M684.1 995.3H688.5M684.1 1066.5H688.5M686.3 995.3V1066.5" fill="none" stroke="#e54a33" stroke-width="2.4"/>
<path d="M730.1 1001.0H738.7M730.1 1076.2H738.7M734.4 1001.0V1076.2" fill="none" stroke="#e54a33" stroke-width="2.4"/>
<path d="M772.9 977.5H781.5M772.9 1070.4H781.5M777.2 977.5V1070.4" fill="none" stroke="#e54a33" stroke-width="2.4"/>
<path d="M815.8 1015.4H824.3M815.8 1094.5H824.3M820.0 1015.4V1094.5" fill="none" stroke="#e54a33" stroke-width="2.4"/>
<path d="M858.6 1066.0H867.2M858.6 1136.6H867.2M862.9 1066.0V1136.6" fill="none" stroke="#e54a33" stroke-width="2.4"/>
<path d="M901.4 1085.3H910.0M901.4 1149.7H910.0M905.7 1085.3V1149.7" fill="none" stroke="#e54a33" stroke-width="2.4"/>
<path d="M944.2 1022.8H952.8M944.2 1163.4H952.8M948.5 1022.8V1163.4" fill="none" stroke="#e54a33" stroke-width="2.4"/>
<path d="M987.1 1166.8H995.7M987.1 1181.2H995.7M991.4 1166.8V1181.2" fill="none" stroke="#e54a33" stroke-width="2.4"/>
<line x1="152.0" y1="737.4" x2="152.0" y2="1182.3" stroke="#000" stroke-width="2.3" />
<line x1="140.4" y1="1181.2" x2="1018.0" y2="1181.2" stroke="#000" stroke-width="2.3" />
<line x1="140.4" y1="1181.2" x2="152.0" y2="1181.2" stroke="#000" stroke-width="2.3" />
<text transform="translate(130.9 1195.4) scale(0.965 1)" font-size="39.8" fill="#4d4d4d" class="g" text-anchor="end" >0</text>
<line x1="140.4" y1="1107.4" x2="152.0" y2="1107.4" stroke="#000" stroke-width="2.3" />
<text transform="translate(130.9 1121.6) scale(0.965 1)" font-size="39.8" fill="#4d4d4d" class="g" text-anchor="end" >10</text>
<line x1="140.4" y1="1033.6" x2="152.0" y2="1033.6" stroke="#000" stroke-width="2.3" />
<text transform="translate(130.9 1047.8) scale(0.965 1)" font-size="39.8" fill="#4d4d4d" class="g" text-anchor="end" >20</text>
<line x1="140.4" y1="959.9" x2="152.0" y2="959.9" stroke="#000" stroke-width="2.3" />
<text transform="translate(130.9 974.1) scale(0.965 1)" font-size="39.8" fill="#4d4d4d" class="g" text-anchor="end" >30</text>
<line x1="140.4" y1="886.1" x2="152.0" y2="886.1" stroke="#000" stroke-width="2.3" />
<text transform="translate(130.9 900.3) scale(0.965 1)" font-size="39.8" fill="#4d4d4d" class="g" text-anchor="end" >40</text>
<line x1="140.4" y1="812.3" x2="152.0" y2="812.3" stroke="#000" stroke-width="2.3" />
<text transform="translate(130.9 826.5) scale(0.965 1)" font-size="39.8" fill="#4d4d4d" class="g" text-anchor="end" >50</text>
<line x1="140.4" y1="738.5" x2="152.0" y2="738.5" stroke="#000" stroke-width="2.3" />
<text transform="translate(130.9 752.7) scale(0.965 1)" font-size="39.8" fill="#4d4d4d" class="g" text-anchor="end" >60</text>
<line x1="177.6" y1="1181.2" x2="177.6" y2="1193.5" stroke="#000" stroke-width="2.3" />
<line x1="220.4" y1="1181.2" x2="220.4" y2="1193.5" stroke="#000" stroke-width="2.3" />
<line x1="263.3" y1="1181.2" x2="263.3" y2="1193.5" stroke="#000" stroke-width="2.3" />
<line x1="306.1" y1="1181.2" x2="306.1" y2="1193.5" stroke="#000" stroke-width="2.3" />
<line x1="348.9" y1="1181.2" x2="348.9" y2="1193.5" stroke="#000" stroke-width="2.3" />
<line x1="391.8" y1="1181.2" x2="391.8" y2="1193.5" stroke="#000" stroke-width="2.3" />
<line x1="434.6" y1="1181.2" x2="434.6" y2="1193.5" stroke="#000" stroke-width="2.3" />
<line x1="477.4" y1="1181.2" x2="477.4" y2="1193.5" stroke="#000" stroke-width="2.3" />
<line x1="520.2" y1="1181.2" x2="520.2" y2="1193.5" stroke="#000" stroke-width="2.3" />
<line x1="563.1" y1="1181.2" x2="563.1" y2="1193.5" stroke="#000" stroke-width="2.3" />
<line x1="605.9" y1="1181.2" x2="605.9" y2="1193.5" stroke="#000" stroke-width="2.3" />
<line x1="648.7" y1="1181.2" x2="648.7" y2="1193.5" stroke="#000" stroke-width="2.3" />
<line x1="691.6" y1="1181.2" x2="691.6" y2="1193.5" stroke="#000" stroke-width="2.3" />
<line x1="734.4" y1="1181.2" x2="734.4" y2="1193.5" stroke="#000" stroke-width="2.3" />
<line x1="777.2" y1="1181.2" x2="777.2" y2="1193.5" stroke="#000" stroke-width="2.3" />
<line x1="820.0" y1="1181.2" x2="820.0" y2="1193.5" stroke="#000" stroke-width="2.3" />
<line x1="862.9" y1="1181.2" x2="862.9" y2="1193.5" stroke="#000" stroke-width="2.3" />
<line x1="905.7" y1="1181.2" x2="905.7" y2="1193.5" stroke="#000" stroke-width="2.3" />
<line x1="948.5" y1="1181.2" x2="948.5" y2="1193.5" stroke="#000" stroke-width="2.3" />
<line x1="991.4" y1="1181.2" x2="991.4" y2="1193.5" stroke="#000" stroke-width="2.3" />
<text transform="translate(187.6,1213.0) rotate(-45) scale(0.96 1)" font-size="39.8" text-anchor="end" fill="#4d4d4d" class="g" dy="12.5">1d–2d</text>
<text transform="translate(273.3,1213.0) rotate(-45) scale(0.96 1)" font-size="39.8" text-anchor="end" fill="#4d4d4d" class="g" dy="12.5">5d–6d</text>
<text transform="translate(358.9,1213.0) rotate(-45) scale(0.96 1)" font-size="39.8" text-anchor="end" fill="#4d4d4d" class="g" dy="12.5">9d–10d</text>
<text transform="translate(444.6,1213.0) rotate(-45) scale(0.96 1)" font-size="39.8" text-anchor="end" fill="#4d4d4d" class="g" dy="12.5">13d–14d</text>
<text transform="translate(530.2,1213.0) rotate(-45) scale(0.96 1)" font-size="39.8" text-anchor="end" fill="#4d4d4d" class="g" dy="12.5">17d–18d</text>
<text transform="translate(615.9,1213.0) rotate(-45) scale(0.96 1)" font-size="39.8" text-anchor="end" fill="#4d4d4d" class="g" dy="12.5">21d–22d</text>
<text transform="translate(701.6,1213.0) rotate(-45) scale(0.96 1)" font-size="39.8" text-anchor="end" fill="#4d4d4d" class="g" dy="12.5">25d–26d</text>
<text transform="translate(787.2,1213.0) rotate(-45) scale(0.96 1)" font-size="39.8" text-anchor="end" fill="#4d4d4d" class="g" dy="12.5">29d–30d</text>
<text transform="translate(872.9,1213.0) rotate(-45) scale(0.96 1)" font-size="39.8" text-anchor="end" fill="#4d4d4d" class="g" dy="12.5">33d–34d</text>
<text transform="translate(958.5,1213.0) rotate(-45) scale(0.96 1)" font-size="39.8" text-anchor="end" fill="#4d4d4d" class="g" dy="12.5">37d–38d</text>
<text transform="translate(583.0 1380.0) scale(0.972 1)" font-size="48.4" fill="#000" class="k" text-anchor="middle" >Days after emergence</text>
<text transform="translate(65.8,958.3) rotate(-90) scale(0.975 1)" font-size="48.4" text-anchor="middle" fill="#000" class="k">Egg number</text>
<rect x="739.6" y="765.4" width="34.6" height="34.6" fill="none" stroke="#e54a33" stroke-width="2"/>
<line x1="743.6" y1="782.7" x2="770.2" y2="782.7" stroke="#e54a33" stroke-width="2" />
<rect x="739.6" y="828.8" width="34.6" height="34.6" fill="none" stroke="#6cc9d6" stroke-width="2"/>
<line x1="743.6" y1="846.1" x2="770.2" y2="846.1" stroke="#6cc9d6" stroke-width="2" />
<text transform="translate(790.0 796.3) scale(0.915 1)" font-size="38.6" fill="#000" class="k" >WI</text>
<text x="865.0" y="792.1" font-size="36.8" fill="#000" class="k" >(n = 35)</text>
<text transform="translate(790.0 859.2) scale(0.915 1)" font-size="38.6" fill="#000" class="k" >WU</text>
<text x="865.0" y="855.0" font-size="36.8" fill="#000" class="k" >(n = 44)</text>
<text x="734.0" y="926.0" font-size="48" fill="#000" class="k" >****</text>
<clipPath id="ce"><rect x="1200" y="700" width="800" height="493.6"/></clipPath>
<g clip-path="url(#ce)">
<circle cx="1310.4" cy="1193.6" r="5.8" fill="none" stroke="#e54a33" stroke-width="4.4"/>
<circle cx="1340.4" cy="1193.6" r="5.8" fill="none" stroke="#6cc9d6" stroke-width="4.4"/>
<path d="M1415.1 1195.6V1138.5H1445.1V1195.6" fill="none" stroke="#e54a33" stroke-width="2.2"/>
<path d="M1445.1 1195.6V1193.1H1475.1V1195.6" fill="none" stroke="#6cc9d6" stroke-width="2.2"/>
<path d="M1424.1 1117.6H1436.1M1424.1 1159.6H1436.1M1430.1 1117.6V1159.6" fill="none" stroke="#e54a33" stroke-width="2"/>
<circle cx="1430.1" cy="925.5" r="5.8" fill="none" stroke="#e54a33" stroke-width="4.4"/>
<circle cx="1430.1" cy="961.2" r="5.8" fill="none" stroke="#e54a33" stroke-width="4.4"/>
<circle cx="1430.1" cy="979.1" r="5.8" fill="none" stroke="#e54a33" stroke-width="4.4"/>
<circle cx="1430.1" cy="1041.7" r="5.8" fill="none" stroke="#e54a33" stroke-width="4.4"/>
<circle cx="1430.1" cy="1104.2" r="5.8" fill="none" stroke="#e54a33" stroke-width="4.4"/>
<circle cx="1430.1" cy="1140.0" r="5.8" fill="none" stroke="#e54a33" stroke-width="4.4"/>
<circle cx="1430.1" cy="1166.8" r="5.8" fill="none" stroke="#e54a33" stroke-width="4.4"/>
<circle cx="1430.1" cy="1175.7" r="5.8" fill="none" stroke="#e54a33" stroke-width="4.4"/>
<circle cx="1430.1" cy="1193.6" r="5.8" fill="none" stroke="#e54a33" stroke-width="4.4"/>
<circle cx="1460.1" cy="1184.7" r="5.8" fill="none" stroke="#6cc9d6" stroke-width="4.4"/>
<circle cx="1460.1" cy="1193.6" r="5.8" fill="none" stroke="#6cc9d6" stroke-width="4.4"/>
<path d="M1534.8 1195.6V996.1H1564.8V1195.6" fill="none" stroke="#e54a33" stroke-width="2.2"/>
<path d="M1564.8 1195.6V1180.2H1594.8V1195.6" fill="none" stroke="#6cc9d6" stroke-width="2.2"/>
<path d="M1543.8 970.1H1555.8M1543.8 1022.9H1555.8M1549.8 970.1V1022.9" fill="none" stroke="#e54a33" stroke-width="2"/>
<path d="M1573.8 1173.9H1585.8M1573.8 1186.4H1585.8M1579.8 1173.9V1186.4" fill="none" stroke="#6cc9d6" stroke-width="2"/>
<circle cx="1549.8" cy="791.4" r="5.8" fill="none" stroke="#e54a33" stroke-width="4.4"/>
<circle cx="1549.8" cy="809.3" r="5.8" fill="none" stroke="#e54a33" stroke-width="4.4"/>
<circle cx="1549.8" cy="854.0" r="5.8" fill="none" stroke="#e54a33" stroke-width="4.4"/>
<circle cx="1549.8" cy="898.6" r="5.8" fill="none" stroke="#e54a33" stroke-width="4.4"/>
<circle cx="1549.8" cy="925.5" r="5.8" fill="none" stroke="#e54a33" stroke-width="4.4"/>
<circle cx="1549.8" cy="943.3" r="5.8" fill="none" stroke="#e54a33" stroke-width="4.4"/>
<circle cx="1549.8" cy="988.0" r="5.8" fill="none" stroke="#e54a33" stroke-width="4.4"/>
<circle cx="1549.8" cy="997.0" r="5.8" fill="none" stroke="#e54a33" stroke-width="4.4"/>
<circle cx="1549.8" cy="1023.8" r="5.8" fill="none" stroke="#e54a33" stroke-width="4.4"/>
<circle cx="1549.8" cy="1041.7" r="5.8" fill="none" stroke="#e54a33" stroke-width="4.4"/>
<circle cx="1549.8" cy="1077.4" r="5.8" fill="none" stroke="#e54a33" stroke-width="4.4"/>
<circle cx="1549.8" cy="1095.3" r="5.8" fill="none" stroke="#e54a33" stroke-width="4.4"/>
<circle cx="1549.8" cy="1140.0" r="5.8" fill="none" stroke="#e54a33" stroke-width="4.4"/>
<circle cx="1549.8" cy="1157.8" r="5.8" fill="none" stroke="#e54a33" stroke-width="4.4"/>
<circle cx="1549.8" cy="1193.6" r="5.8" fill="none" stroke="#e54a33" stroke-width="4.4"/>
<circle cx="1579.8" cy="1122.1" r="5.8" fill="none" stroke="#6cc9d6" stroke-width="4.4"/>
<circle cx="1579.8" cy="1140.0" r="5.8" fill="none" stroke="#6cc9d6" stroke-width="4.4"/>
<circle cx="1579.8" cy="1157.8" r="5.8" fill="none" stroke="#6cc9d6" stroke-width="4.4"/>
<circle cx="1579.8" cy="1166.8" r="5.8" fill="none" stroke="#6cc9d6" stroke-width="4.4"/>
<circle cx="1579.8" cy="1184.7" r="5.8" fill="none" stroke="#6cc9d6" stroke-width="4.4"/>
<circle cx="1579.8" cy="1193.6" r="5.8" fill="none" stroke="#6cc9d6" stroke-width="4.4"/>
<path d="M1654.5 1195.6V983.6H1684.5V1195.6" fill="none" stroke="#e54a33" stroke-width="2.2"/>
<path d="M1684.5 1195.6V1071.1H1714.5V1195.6" fill="none" stroke="#6cc9d6" stroke-width="2.2"/>
<path d="M1663.5 963.0H1675.5M1663.5 1003.2H1675.5M1669.5 963.0V1003.2" fill="none" stroke="#e54a33" stroke-width="2"/>
<path d="M1693.5 1052.4H1705.5M1693.5 1090.8H1705.5M1699.5 1052.4V1090.8" fill="none" stroke="#6cc9d6" stroke-width="2"/>
<circle cx="1669.5" cy="862.9" r="5.8" fill="none" stroke="#e54a33" stroke-width="4.4"/>
<circle cx="1669.5" cy="871.8" r="5.8" fill="none" stroke="#e54a33" stroke-width="4.4"/>
<circle cx="1669.5" cy="889.7" r="5.8" fill="none" stroke="#e54a33" stroke-width="4.4"/>
<circle cx="1669.5" cy="898.6" r="5.8" fill="none" stroke="#e54a33" stroke-width="4.4"/>
<circle cx="1669.5" cy="934.4" r="5.8" fill="none" stroke="#e54a33" stroke-width="4.4"/>
<circle cx="1669.5" cy="943.3" r="5.8" fill="none" stroke="#e54a33" stroke-width="4.4"/>
<circle cx="1669.5" cy="961.2" r="5.8" fill="none" stroke="#e54a33" stroke-width="4.4"/>
<circle cx="1669.5" cy="979.1" r="5.8" fill="none" stroke="#e54a33" stroke-width="4.4"/>
<circle cx="1669.5" cy="988.0" r="5.8" fill="none" stroke="#e54a33" stroke-width="4.4"/>
<circle cx="1669.5" cy="1023.8" r="5.8" fill="none" stroke="#e54a33" stroke-width="4.4"/>
<circle cx="1669.5" cy="1050.6" r="5.8" fill="none" stroke="#e54a33" stroke-width="4.4"/>
<circle cx="1669.5" cy="1086.3" r="5.8" fill="none" stroke="#e54a33" stroke-width="4.4"/>
<circle cx="1669.5" cy="1113.2" r="5.8" fill="none" stroke="#e54a33" stroke-width="4.4"/>
<circle cx="1669.5" cy="1131.0" r="5.8" fill="none" stroke="#e54a33" stroke-width="4.4"/>
<circle cx="1669.5" cy="1140.0" r="5.8" fill="none" stroke="#e54a33" stroke-width="4.4"/>
<circle cx="1699.5" cy="916.5" r="5.8" fill="none" stroke="#6cc9d6" stroke-width="4.4"/>
<circle cx="1699.5" cy="952.3" r="5.8" fill="none" stroke="#6cc9d6" stroke-width="4.4"/>
<circle cx="1699.5" cy="1005.9" r="5.8" fill="none" stroke="#6cc9d6" stroke-width="4.4"/>
<circle cx="1699.5" cy="1014.8" r="5.8" fill="none" stroke="#6cc9d6" stroke-width="4.4"/>
<circle cx="1699.5" cy="1023.8" r="5.8" fill="none" stroke="#6cc9d6" stroke-width="4.4"/>
<circle cx="1699.5" cy="1041.7" r="5.8" fill="none" stroke="#6cc9d6" stroke-width="4.4"/>
<circle cx="1699.5" cy="1050.6" r="5.8" fill="none" stroke="#6cc9d6" stroke-width="4.4"/>
<circle cx="1699.5" cy="1068.5" r="5.8" fill="none" stroke="#6cc9d6" stroke-width="4.4"/>
<circle cx="1699.5" cy="1077.4" r="5.8" fill="none" stroke="#6cc9d6" stroke-width="4.4"/>
<circle cx="1699.5" cy="1122.1" r="5.8" fill="none" stroke="#6cc9d6" stroke-width="4.4"/>
<circle cx="1699.5" cy="1131.0" r="5.8" fill="none" stroke="#6cc9d6" stroke-width="4.4"/>
<circle cx="1699.5" cy="1193.6" r="5.8" fill="none" stroke="#6cc9d6" stroke-width="4.4"/>
<path d="M1774.2 1195.6V963.0H1804.2V1195.6" fill="none" stroke="#e54a33" stroke-width="2.2"/>
<path d="M1804.2 1195.6V1048.8H1834.2V1195.6" fill="none" stroke="#6cc9d6" stroke-width="2.2"/>
<path d="M1783.2 934.4H1795.2M1783.2 991.6H1795.2M1789.2 934.4V991.6" fill="none" stroke="#e54a33" stroke-width="2"/>
<path d="M1813.2 1017.5H1825.2M1813.2 1080.1H1825.2M1819.2 1017.5V1080.1" fill="none" stroke="#6cc9d6" stroke-width="2"/>
<circle cx="1789.2" cy="755.6" r="5.8" fill="none" stroke="#e54a33" stroke-width="4.4"/>
<circle cx="1789.2" cy="773.5" r="5.8" fill="none" stroke="#e54a33" stroke-width="4.4"/>
<circle cx="1789.2" cy="854.0" r="5.8" fill="none" stroke="#e54a33" stroke-width="4.4"/>
<circle cx="1789.2" cy="871.8" r="5.8" fill="none" stroke="#e54a33" stroke-width="4.4"/>
<circle cx="1789.2" cy="880.8" r="5.8" fill="none" stroke="#e54a33" stroke-width="4.4"/>
<circle cx="1789.2" cy="907.6" r="5.8" fill="none" stroke="#e54a33" stroke-width="4.4"/>
<circle cx="1789.2" cy="916.5" r="5.8" fill="none" stroke="#e54a33" stroke-width="4.4"/>
<circle cx="1789.2" cy="934.4" r="5.8" fill="none" stroke="#e54a33" stroke-width="4.4"/>
<circle cx="1789.2" cy="979.1" r="5.8" fill="none" stroke="#e54a33" stroke-width="4.4"/>
<circle cx="1789.2" cy="997.0" r="5.8" fill="none" stroke="#e54a33" stroke-width="4.4"/>
<circle cx="1789.2" cy="1032.7" r="5.8" fill="none" stroke="#e54a33" stroke-width="4.4"/>
<circle cx="1789.2" cy="1041.7" r="5.8" fill="none" stroke="#e54a33" stroke-width="4.4"/>
<circle cx="1789.2" cy="1077.4" r="5.8" fill="none" stroke="#e54a33" stroke-width="4.4"/>
<circle cx="1789.2" cy="1122.1" r="5.8" fill="none" stroke="#e54a33" stroke-width="4.4"/>
<circle cx="1789.2" cy="1157.8" r="5.8" fill="none" stroke="#e54a33" stroke-width="4.4"/>
<circle cx="1819.2" cy="800.3" r="5.8" fill="none" stroke="#6cc9d6" stroke-width="4.4"/>
<circle cx="1819.2" cy="871.8" r="5.8" fill="none" stroke="#6cc9d6" stroke-width="4.4"/>
<circle cx="1819.2" cy="889.7" r="5.8" fill="none" stroke="#6cc9d6" stroke-width="4.4"/>
<circle cx="1819.2" cy="907.6" r="5.8" fill="none" stroke="#6cc9d6" stroke-width="4.4"/>
<circle cx="1819.2" cy="925.5" r="5.8" fill="none" stroke="#6cc9d6" stroke-width="4.4"/>
<circle cx="1819.2" cy="970.1" r="5.8" fill="none" stroke="#6cc9d6" stroke-width="4.4"/>
<circle cx="1819.2" cy="1068.5" r="5.8" fill="none" stroke="#6cc9d6" stroke-width="4.4"/>
<circle cx="1819.2" cy="1104.2" r="5.8" fill="none" stroke="#6cc9d6" stroke-width="4.4"/>
<circle cx="1819.2" cy="1113.2" r="5.8" fill="none" stroke="#6cc9d6" stroke-width="4.4"/>
<circle cx="1819.2" cy="1131.0" r="5.8" fill="none" stroke="#6cc9d6" stroke-width="4.4"/>
<circle cx="1819.2" cy="1148.9" r="5.8" fill="none" stroke="#6cc9d6" stroke-width="4.4"/>
<circle cx="1819.2" cy="1166.8" r="5.8" fill="none" stroke="#6cc9d6" stroke-width="4.4"/>
<circle cx="1819.2" cy="1193.6" r="5.8" fill="none" stroke="#6cc9d6" stroke-width="4.4"/>
<path d="M1893.9 1195.6V998.8H1923.9V1195.6" fill="none" stroke="#e54a33" stroke-width="2.2"/>
<path d="M1923.9 1195.6V1078.3H1953.9V1195.6" fill="none" stroke="#6cc9d6" stroke-width="2.2"/>
<path d="M1902.9 977.3H1914.9M1902.9 1020.2H1914.9M1908.9 977.3V1020.2" fill="none" stroke="#e54a33" stroke-width="2"/>
<path d="M1932.9 1056.8H1944.9M1932.9 1098.9H1944.9M1938.9 1056.8V1098.9" fill="none" stroke="#6cc9d6" stroke-width="2"/>
<circle cx="1908.9" cy="827.1" r="5.8" fill="none" stroke="#e54a33" stroke-width="4.4"/>
<circle cx="1908.9" cy="889.7" r="5.8" fill="none" stroke="#e54a33" stroke-width="4.4"/>
<circle cx="1908.9" cy="934.4" r="5.8" fill="none" stroke="#e54a33" stroke-width="4.4"/>
<circle cx="1908.9" cy="943.3" r="5.8" fill="none" stroke="#e54a33" stroke-width="4.4"/>
<circle cx="1908.9" cy="961.2" r="5.8" fill="none" stroke="#e54a33" stroke-width="4.4"/>
<circle cx="1908.9" cy="970.1" r="5.8" fill="none" stroke="#e54a33" stroke-width="4.4"/>
<circle cx="1908.9" cy="988.0" r="5.8" fill="none" stroke="#e54a33" stroke-width="4.4"/>
<circle cx="1908.9" cy="1005.9" r="5.8" fill="none" stroke="#e54a33" stroke-width="4.4"/>
<circle cx="1908.9" cy="1014.8" r="5.8" fill="none" stroke="#e54a33" stroke-width="4.4"/>
<circle cx="1908.9" cy="1023.8" r="5.8" fill="none" stroke="#e54a33" stroke-width="4.4"/>
<circle cx="1908.9" cy="1050.6" r="5.8" fill="none" stroke="#e54a33" stroke-width="4.4"/>
<circle cx="1908.9" cy="1113.2" r="5.8" fill="none" stroke="#e54a33" stroke-width="4.4"/>
<circle cx="1908.9" cy="1148.9" r="5.8" fill="none" stroke="#e54a33" stroke-width="4.4"/>
<circle cx="1908.9" cy="1157.8" r="5.8" fill="none" stroke="#e54a33" stroke-width="4.4"/>
<circle cx="1938.9" cy="898.6" r="5.8" fill="none" stroke="#6cc9d6" stroke-width="4.4"/>
<circle cx="1938.9" cy="952.3" r="5.8" fill="none" stroke="#6cc9d6" stroke-width="4.4"/>
<circle cx="1938.9" cy="961.2" r="5.8" fill="none" stroke="#6cc9d6" stroke-width="4.4"/>
<circle cx="1938.9" cy="1005.9" r="5.8" fill="none" stroke="#6cc9d6" stroke-width="4.4"/>
<circle cx="1938.9" cy="1014.8" r="5.8" fill="none" stroke="#6cc9d6" stroke-width="4.4"/>
<circle cx="1938.9" cy="1023.8" r="5.8" fill="none" stroke="#6cc9d6" stroke-width="4.4"/>
<circle cx="1938.9" cy="1050.6" r="5.8" fill="none" stroke="#6cc9d6" stroke-width="4.4"/>
<circle cx="1938.9" cy="1068.5" r="5.8" fill="none" stroke="#6cc9d6" stroke-width="4.4"/>
<circle cx="1938.9" cy="1095.3" r="5.8" fill="none" stroke="#6cc9d6" stroke-width="4.4"/>
<circle cx="1938.9" cy="1131.0" r="5.8" fill="none" stroke="#6cc9d6" stroke-width="4.4"/>
<circle cx="1938.9" cy="1140.0" r="5.8" fill="none" stroke="#6cc9d6" stroke-width="4.4"/>
<circle cx="1938.9" cy="1166.8" r="5.8" fill="none" stroke="#6cc9d6" stroke-width="4.4"/>
<circle cx="1938.9" cy="1175.7" r="5.8" fill="none" stroke="#6cc9d6" stroke-width="4.4"/>
<circle cx="1938.9" cy="1193.6" r="5.8" fill="none" stroke="#6cc9d6" stroke-width="4.4"/>
</g>
<line x1="1254.1" y1="745.6" x2="1254.1" y2="1194.6" stroke="#000" stroke-width="2.0" />
<line x1="1242.4" y1="1193.6" x2="1996.0" y2="1193.6" stroke="#000" stroke-width="2.0" />
<line x1="1242.4" y1="1193.6" x2="1254.1" y2="1193.6" stroke="#000" stroke-width="2.0" />
<text transform="translate(1232.9 1207.8) scale(0.965 1)" font-size="39.8" fill="#4d4d4d" class="g" text-anchor="end" >0</text>
<line x1="1242.4" y1="1104.2" x2="1254.1" y2="1104.2" stroke="#000" stroke-width="2.0" />
<text transform="translate(1232.9 1118.4) scale(0.965 1)" font-size="39.8" fill="#4d4d4d" class="g" text-anchor="end" >10</text>
<line x1="1242.4" y1="1014.8" x2="1254.1" y2="1014.8" stroke="#000" stroke-width="2.0" />
<text transform="translate(1232.9 1029.0) scale(0.965 1)" font-size="39.8" fill="#4d4d4d" class="g" text-anchor="end" >20</text>
<line x1="1242.4" y1="925.5" x2="1254.1" y2="925.5" stroke="#000" stroke-width="2.0" />
<text transform="translate(1232.9 939.7) scale(0.965 1)" font-size="39.8" fill="#4d4d4d" class="g" text-anchor="end" >30</text>
<line x1="1242.4" y1="836.1" x2="1254.1" y2="836.1" stroke="#000" stroke-width="2.0" />
<text transform="translate(1232.9 850.3) scale(0.965 1)" font-size="39.8" fill="#4d4d4d" class="g" text-anchor="end" >40</text>
<line x1="1242.4" y1="746.7" x2="1254.1" y2="746.7" stroke="#000" stroke-width="2.0" />
<text transform="translate(1232.9 760.9) scale(0.965 1)" font-size="39.8" fill="#4d4d4d" class="g" text-anchor="end" >50</text>
<line x1="1325.4" y1="1193.6" x2="1325.4" y2="1205.0" stroke="#000" stroke-width="2.0" />
<text transform="translate(1325.4 1244.0) scale(0.965 1)" font-size="39.8" fill="#4d4d4d" class="g" text-anchor="middle" >1d</text>
<line x1="1445.1" y1="1193.6" x2="1445.1" y2="1205.0" stroke="#000" stroke-width="2.0" />
<text transform="translate(1445.1 1244.0) scale(0.965 1)" font-size="39.8" fill="#4d4d4d" class="g" text-anchor="middle" >2d</text>
<line x1="1564.8" y1="1193.6" x2="1564.8" y2="1205.0" stroke="#000" stroke-width="2.0" />
<text transform="translate(1564.8 1244.0) scale(0.965 1)" font-size="39.8" fill="#4d4d4d" class="g" text-anchor="middle" >3d</text>
<line x1="1684.5" y1="1193.6" x2="1684.5" y2="1205.0" stroke="#000" stroke-width="2.0" />
<text transform="translate(1684.5 1244.0) scale(0.965 1)" font-size="39.8" fill="#4d4d4d" class="g" text-anchor="middle" >4d</text>
<line x1="1804.2" y1="1193.6" x2="1804.2" y2="1205.0" stroke="#000" stroke-width="2.0" />
<text transform="translate(1804.2 1244.0) scale(0.965 1)" font-size="39.8" fill="#4d4d4d" class="g" text-anchor="middle" >5d</text>
<line x1="1923.9" y1="1193.6" x2="1923.9" y2="1205.0" stroke="#000" stroke-width="2.0" />
<text transform="translate(1923.9 1244.0) scale(0.965 1)" font-size="39.8" fill="#4d4d4d" class="g" text-anchor="middle" >6d</text>
<text transform="translate(1623.3 1296.6) scale(0.972 1)" font-size="48.4" fill="#000" class="k" text-anchor="middle" >Days after emergence</text>
<text transform="translate(1167.8,969.0) rotate(-90) scale(0.975 1)" font-size="48.4" text-anchor="middle" fill="#000" class="k">Egg number</text>
<rect x="1271.4" y="754.2" width="34.8" height="34.8" fill="none" stroke="#e54a33" stroke-width="2"/>
<line x1="1275.4" y1="771.6" x2="1302.2" y2="771.6" stroke="#e54a33" stroke-width="2" />
<rect x="1271.4" y="817.8" width="34.8" height="34.8" fill="none" stroke="#6cc9d6" stroke-width="2"/>
<line x1="1275.4" y1="835.2" x2="1302.2" y2="835.2" stroke="#6cc9d6" stroke-width="2" />
<text transform="translate(1322.5 785.2) scale(0.915 1)" font-size="38.6" fill="#000" class="k" >WI</text>
<text x="1397.5" y="781.0" font-size="36.8" fill="#000" class="k" >(n = 19)</text>
<text transform="translate(1322.5 847.3) scale(0.915 1)" font-size="38.6" fill="#000" class="k" >WU</text>
<text x="1397.5" y="843.7" font-size="36.8" fill="#000" class="k" >(n = 17)</text>
<text x="1309.5" y="911.5" font-size="48" fill="#000" class="k" >****</text>
<text x="1325.5" y="1150.8" font-size="36" fill="#000" class="k" text-anchor="middle" >X</text>
<line x1="1293.4" y1="1165.3" x2="1357.3" y2="1165.3" stroke="#000" stroke-width="4.6" />
<clipPath id="cf"><rect x="100" y="1400" width="1000" height="532.6"/></clipPath>
<g clip-path="url(#cf)">
<circle cx="271.3" cy="1932.6" r="5.8" fill="none" stroke="#e54a33" stroke-width="4.4"/>
<circle cx="362.8" cy="1932.6" r="5.8" fill="none" stroke="#6cc9d6" stroke-width="4.4"/>
<path d="M486.6 1934.6V1877.2H578.1V1934.6" fill="none" stroke="#e54a33" stroke-width="1.9"/>
<path d="M578.1 1934.6V1901.7H669.9V1934.6" fill="none" stroke="#6cc9d6" stroke-width="1.9"/>
<path d="M519.4 1867.4H545.4M519.4 1888.4H545.4M532.4 1867.4V1888.4" fill="none" stroke="#e54a33" stroke-width="1.9"/>
<path d="M610.8 1894.4H636.8M610.8 1910.3H636.8M623.8 1894.4V1910.3" fill="none" stroke="#6cc9d6" stroke-width="1.9"/>
<circle cx="532.4" cy="1743.8" r="5.8" fill="none" stroke="#e54a33" stroke-width="4.4"/>
<circle cx="532.4" cy="1778.1" r="5.8" fill="none" stroke="#e54a33" stroke-width="4.4"/>
<circle cx="532.4" cy="1829.6" r="5.8" fill="none" stroke="#e54a33" stroke-width="4.4"/>
<circle cx="532.4" cy="1846.8" r="5.8" fill="none" stroke="#e54a33" stroke-width="4.4"/>
<circle cx="532.4" cy="1863.9" r="5.8" fill="none" stroke="#e54a33" stroke-width="4.4"/>
<circle cx="532.4" cy="1872.5" r="5.8" fill="none" stroke="#e54a33" stroke-width="4.4"/>
<circle cx="532.4" cy="1881.1" r="5.8" fill="none" stroke="#e54a33" stroke-width="4.4"/>
<circle cx="532.4" cy="1898.3" r="5.8" fill="none" stroke="#e54a33" stroke-width="4.4"/>
<circle cx="532.4" cy="1915.4" r="5.8" fill="none" stroke="#e54a33" stroke-width="4.4"/>
<circle cx="532.4" cy="1932.6" r="5.8" fill="none" stroke="#e54a33" stroke-width="4.4"/>
<circle cx="623.8" cy="1846.8" r="5.8" fill="none" stroke="#6cc9d6" stroke-width="4.4"/>
<circle cx="623.8" cy="1872.5" r="5.8" fill="none" stroke="#6cc9d6" stroke-width="4.4"/>
<circle cx="623.8" cy="1881.1" r="5.8" fill="none" stroke="#6cc9d6" stroke-width="4.4"/>
<circle cx="623.8" cy="1898.3" r="5.8" fill="none" stroke="#6cc9d6" stroke-width="4.4"/>
<circle cx="623.8" cy="1906.8" r="5.8" fill="none" stroke="#6cc9d6" stroke-width="4.4"/>
<circle cx="623.8" cy="1915.4" r="5.8" fill="none" stroke="#6cc9d6" stroke-width="4.4"/>
<circle cx="623.8" cy="1932.6" r="5.8" fill="none" stroke="#6cc9d6" stroke-width="4.4"/>
<path d="M747.5 1934.6V1661.8H839.0V1934.6" fill="none" stroke="#e54a33" stroke-width="1.9"/>
<path d="M839.0 1934.6V1753.2H930.8V1934.6" fill="none" stroke="#6cc9d6" stroke-width="1.9"/>
<path d="M780.3 1636.5H806.3M780.3 1688.0H806.3M793.3 1636.5V1688.0" fill="none" stroke="#e54a33" stroke-width="1.9"/>
<path d="M871.7 1730.0H897.7M871.7 1776.4H897.7M884.7 1730.0V1776.4" fill="none" stroke="#6cc9d6" stroke-width="1.9"/>
<circle cx="793.3" cy="1503.4" r="5.8" fill="none" stroke="#e54a33" stroke-width="4.4"/>
<circle cx="793.3" cy="1537.7" r="5.8" fill="none" stroke="#e54a33" stroke-width="4.4"/>
<circle cx="793.3" cy="1554.9" r="5.8" fill="none" stroke="#e54a33" stroke-width="4.4"/>
<circle cx="793.3" cy="1589.2" r="5.8" fill="none" stroke="#e54a33" stroke-width="4.4"/>
<circle cx="793.3" cy="1623.6" r="5.8" fill="none" stroke="#e54a33" stroke-width="4.4"/>
<circle cx="793.3" cy="1640.7" r="5.8" fill="none" stroke="#e54a33" stroke-width="4.4"/>
<circle cx="793.3" cy="1657.9" r="5.8" fill="none" stroke="#e54a33" stroke-width="4.4"/>
<circle cx="793.3" cy="1692.2" r="5.8" fill="none" stroke="#e54a33" stroke-width="4.4"/>
<circle cx="793.3" cy="1709.4" r="5.8" fill="none" stroke="#e54a33" stroke-width="4.4"/>
<circle cx="793.3" cy="1778.1" r="5.8" fill="none" stroke="#e54a33" stroke-width="4.4"/>
<circle cx="793.3" cy="1863.9" r="5.8" fill="none" stroke="#e54a33" stroke-width="4.4"/>
<circle cx="884.7" cy="1554.9" r="5.8" fill="none" stroke="#6cc9d6" stroke-width="4.4"/>
<circle cx="884.7" cy="1589.2" r="5.8" fill="none" stroke="#6cc9d6" stroke-width="4.4"/>
<circle cx="884.7" cy="1692.2" r="5.8" fill="none" stroke="#6cc9d6" stroke-width="4.4"/>
<circle cx="884.7" cy="1709.4" r="5.8" fill="none" stroke="#6cc9d6" stroke-width="4.4"/>
<circle cx="884.7" cy="1726.6" r="5.8" fill="none" stroke="#6cc9d6" stroke-width="4.4"/>
<circle cx="884.7" cy="1760.9" r="5.8" fill="none" stroke="#6cc9d6" stroke-width="4.4"/>
<circle cx="884.7" cy="1778.1" r="5.8" fill="none" stroke="#6cc9d6" stroke-width="4.4"/>
<circle cx="884.7" cy="1863.9" r="5.8" fill="none" stroke="#6cc9d6" stroke-width="4.4"/>
<circle cx="884.7" cy="1881.1" r="5.8" fill="none" stroke="#6cc9d6" stroke-width="4.4"/>
<circle cx="884.7" cy="1898.3" r="5.8" fill="none" stroke="#6cc9d6" stroke-width="4.4"/>
</g>
<line x1="161.2" y1="1486.2" x2="161.2" y2="1933.5" stroke="#000" stroke-width="1.8" />
<line x1="149.5" y1="1932.6" x2="996.0" y2="1932.6" stroke="#000" stroke-width="1.8" />
<line x1="149.5" y1="1932.6" x2="161.2" y2="1932.6" stroke="#000" stroke-width="1.8" />
<text transform="translate(140.0 1946.8) scale(0.965 1)" font-size="39.8" fill="#4d4d4d" class="g" text-anchor="end" >0</text>
<line x1="149.5" y1="1846.8" x2="161.2" y2="1846.8" stroke="#000" stroke-width="1.8" />
<text transform="translate(140.0 1861.0) scale(0.965 1)" font-size="39.8" fill="#4d4d4d" class="g" text-anchor="end" >10</text>
<line x1="149.5" y1="1760.9" x2="161.2" y2="1760.9" stroke="#000" stroke-width="1.8" />
<text transform="translate(140.0 1775.1) scale(0.965 1)" font-size="39.8" fill="#4d4d4d" class="g" text-anchor="end" >20</text>
<line x1="149.5" y1="1675.1" x2="161.2" y2="1675.1" stroke="#000" stroke-width="1.8" />
<text transform="translate(140.0 1689.3) scale(0.965 1)" font-size="39.8" fill="#4d4d4d" class="g" text-anchor="end" >30</text>
<line x1="149.5" y1="1589.2" x2="161.2" y2="1589.2" stroke="#000" stroke-width="1.8" />
<text transform="translate(140.0 1603.4) scale(0.965 1)" font-size="39.8" fill="#4d4d4d" class="g" text-anchor="end" >40</text>
<line x1="149.5" y1="1503.4" x2="161.2" y2="1503.4" stroke="#000" stroke-width="1.8" />
<text transform="translate(140.0 1517.6) scale(0.965 1)" font-size="39.8" fill="#4d4d4d" class="g" text-anchor="end" >50</text>
<line x1="317.1" y1="1932.6" x2="317.1" y2="1944.4" stroke="#000" stroke-width="1.8" />
<text transform="translate(269.6 1972.8) scale(0.968 1)" font-size="38" fill="#000" class="k" text-anchor="middle" >(16)</text>
<text transform="translate(358.5 1972.8) scale(0.968 1)" font-size="38" fill="#000" class="k" text-anchor="middle" >(16)</text>
<text transform="translate(317.1 2016.5) scale(0.965 1)" font-size="39.8" fill="#4d4d4d" class="g" text-anchor="middle" >1d</text>
<line x1="578.1" y1="1932.6" x2="578.1" y2="1944.4" stroke="#000" stroke-width="1.8" />
<text transform="translate(526.4 1972.8) scale(0.968 1)" font-size="38" fill="#000" class="k" text-anchor="middle" >(21)</text>
<text transform="translate(623.8 1972.8) scale(0.968 1)" font-size="38" fill="#000" class="k" text-anchor="middle" >(17)</text>
<text transform="translate(578.1 2016.5) scale(0.965 1)" font-size="39.8" fill="#4d4d4d" class="g" text-anchor="middle" >3d</text>
<line x1="839.0" y1="1932.6" x2="839.0" y2="1944.4" stroke="#000" stroke-width="1.8" />
<text transform="translate(790.9 1972.8) scale(0.968 1)" font-size="38" fill="#000" class="k" text-anchor="middle" >(17)</text>
<text transform="translate(881.4 1972.8) scale(0.968 1)" font-size="38" fill="#000" class="k" text-anchor="middle" >(17)</text>
<text transform="translate(839.0 2016.5) scale(0.965 1)" font-size="39.8" fill="#4d4d4d" class="g" text-anchor="middle" >5d</text>
<text transform="translate(75.2,1708.5) rotate(-90) scale(0.975 1)" font-size="48.4" text-anchor="middle" fill="#000" class="k">Mature oocyte number</text>
<rect x="224.7" y="1511.9" width="34.6" height="34.6" fill="none" stroke="#e54a33" stroke-width="1.9"/>
<line x1="228.7" y1="1529.2" x2="255.3" y2="1529.2" stroke="#e54a33" stroke-width="1.9" />
<rect x="224.7" y="1574.8" width="34.6" height="34.6" fill="none" stroke="#6cc9d6" stroke-width="1.9"/>
<line x1="228.7" y1="1592.1" x2="255.3" y2="1592.1" stroke="#6cc9d6" stroke-width="1.9" />
<text transform="translate(285.5 1542.2) scale(0.915 1)" font-size="38.6" fill="#000" class="k" >WI</text>
<text transform="translate(285.5 1604.2) scale(0.915 1)" font-size="38.6" fill="#000" class="k" >WU</text>
<text x="223.0" y="1677.2" font-size="48" fill="#000" class="k" >****</text>
<text x="321.0" y="1890.7" font-size="36" fill="#000" class="k" text-anchor="middle" >X</text>
<line x1="283.6" y1="1905.8" x2="358.7" y2="1905.8" stroke="#000" stroke-width="4.7" />
<defs>
<filter id="bl2" x="-20%" y="-20%" width="140%" height="140%"><feGaussianBlur stdDeviation="3"/></filter>
<filter id="bl3" x="-20%" y="-20%" width="140%" height="140%"><feGaussianBlur stdDeviation="5"/></filter>
<filter id="bl4" x="-20%" y="-20%" width="140%" height="140%"><feGaussianBlur stdDeviation="6.5"/></filter>
<filter id="bl5" x="-20%" y="-20%" width="140%" height="140%"><feGaussianBlur stdDeviation="9"/></filter>
<filter id="bl6" x="-20%" y="-20%" width="140%" height="140%"><feGaussianBlur stdDeviation="18"/></filter>
</defs>
<rect x="1193.3" y="1473.8" width="777.8" height="497.5" fill="#0b1114"/>
<clipPath id="cg"><rect x="1193.3" y="1473.8" width="777.8" height="497.5"/></clipPath>
<g clip-path="url(#cg)">
<rect x="1193.3" y="1718" width="262" height="254" fill="#0d1417"/>
<g transform="translate(1180,1460) scale(0.15706)"><rect x="125" y="225" width="1555" height="1300" fill="#070b0e"/><g filter="url(#bl6)"><circle cx="828" cy="945" r="23" fill="#9fb0c0" fill-opacity="0.18"/><circle cx="912" cy="980" r="11" fill="#9fb0c0" fill-opacity="0.19"/><circle cx="1097" cy="1239" r="10" fill="#9fb0c0" fill-opacity="0.15"/><circle cx="278" cy="1260" r="19" fill="#9fb0c0" fill-opacity="0.09"/><circle cx="1633" cy="1456" r="18" fill="#9fb0c0" fill-opacity="0.22"/><circle cx="379" cy="259" r="16" fill="#9fb0c0" fill-opacity="0.09"/><circle cx="429" cy="545" r="8" fill="#9fb0c0" fill-opacity="0.18"/><circle cx="810" cy="1301" r="16" fill="#9fb0c0" fill-opacity="0.22"/><circle cx="900" cy="1075" r="15" fill="#9fb0c0" fill-opacity="0.14"/><circle cx="1656" cy="1495" r="21" fill="#9fb0c0" fill-opacity="0.24"/><circle cx="619" cy="529" r="13" fill="#9fb0c0" fill-opacity="0.10"/><circle cx="1305" cy="745" r="22" fill="#9fb0c0" fill-opacity="0.17"/><circle cx="1596" cy="1308" r="8" fill="#9fb0c0" fill-opacity="0.13"/><circle cx="1524" cy="832" r="24" fill="#9fb0c0" fill-opacity="0.17"/><circle cx="251" cy="1033" r="20" fill="#9fb0c0" fill-opacity="0.14"/><circle cx="272" cy="659" r="23" fill="#9fb0c0" fill-opacity="0.25"/><circle cx="319" cy="550" r="10" fill="#9fb0c0" fill-opacity="0.09"/><circle cx="1351" cy="464" r="17" fill="#9fb0c0" fill-opacity="0.18"/><circle cx="430" cy="1162" r="10" fill="#9fb0c0" fill-opacity="0.22"/><circle cx="317" cy="770" r="11" fill="#9fb0c0" fill-opacity="0.14"/><circle cx="1616" cy="1252" r="13" fill="#9fb0c0" fill-opacity="0.27"/><circle cx="460" cy="737" r="22" fill="#9fb0c0" fill-opacity="0.22"/><circle cx="293" cy="1487" r="11" fill="#9fb0c0" fill-opacity="0.14"/><circle cx="1314" cy="654" r="13" fill="#9fb0c0" fill-opacity="0.10"/><circle cx="277" cy="974" r="12" fill="#9fb0c0" fill-opacity="0.21"/><circle cx="705" cy="811" r="23" fill="#9fb0c0" fill-opacity="0.19"/><ellipse cx="1075" cy="300" rx="26" ry="23.400000000000002" fill="#c3c8d4" fill-opacity="0.6"/><ellipse cx="305" cy="905" rx="24" ry="21.6" fill="#c3c8d4" fill-opacity="0.35"/><ellipse cx="1280" cy="1385" rx="26" ry="23.400000000000002" fill="#c3c8d4" fill-opacity="0.4"/><ellipse cx="1250" cy="1365" rx="20" ry="18.0" fill="#c3c8d4" fill-opacity="0.3"/><ellipse cx="215" cy="440" rx="16" ry="14.4" fill="#c3c8d4" fill-opacity="0.3"/><ellipse cx="150" cy="380" rx="16" ry="14.4" fill="#c3c8d4" fill-opacity="0.25"/><ellipse cx="670" cy="1480" rx="22" ry="19.8" fill="#c3c8d4" fill-opacity="0.3"/><ellipse cx="620" cy="1500" rx="22" ry="19.8" fill="#c3c8d4" fill-opacity="0.25"/><ellipse cx="1500" cy="285" rx="18" ry="16.2" fill="#c3c8d4" fill-opacity="0.2"/><ellipse cx="1130" cy="940" rx="35" ry="31.5" fill="#c3c8d4" fill-opacity="0.12"/><ellipse cx="650" cy="1120" rx="70" ry="170" fill="#5a6a78" fill-opacity="0.22"/><path d="M700 840L540 560L700 430L920 420L1040 470L900 800Z" fill="#56728c" fill-opacity="0.3"/><path d="M940 930L860 760L1000 600L1170 490L1290 600L1340 740L1200 860Z" fill="#56728c" fill-opacity="0.3"/></g><g filter="url(#bl5)"><path d="M705 840L570 550" stroke="#a9c0d4" stroke-width="5" stroke-opacity="0.45" stroke-linecap="round" fill="none"/><ellipse cx="648" cy="718" rx="25" ry="11" fill="#7f9db8" fill-opacity="0.62" transform="rotate(-115 648 718)"/><ellipse cx="624" cy="666" rx="31" ry="16" fill="#7f9db8" fill-opacity="0.62" transform="rotate(-115 624 666)"/><ellipse cx="593" cy="599" rx="46" ry="22" fill="#7f9db8" fill-opacity="0.62" transform="rotate(-115 593 599)"/><path d="M705 840L625 600" stroke="#a9c0d4" stroke-width="5" stroke-opacity="0.45" stroke-linecap="round" fill="none"/><ellipse cx="671" cy="739" rx="20" ry="10" fill="#7f9db8" fill-opacity="0.62" transform="rotate(-108 671 739)"/><ellipse cx="657" cy="696" rx="26" ry="14" fill="#7f9db8" fill-opacity="0.62" transform="rotate(-108 657 696)"/><ellipse cx="639" cy="641" rx="37" ry="19" fill="#7f9db8" fill-opacity="0.62" transform="rotate(-108 639 641)"/><path d="M705 840L690 455" stroke="#a9c0d4" stroke-width="5" stroke-opacity="0.45" stroke-linecap="round" fill="none"/><ellipse cx="699" cy="678" rx="29" ry="12" fill="#7f9db8" fill-opacity="0.62" transform="rotate(-92 699 678)"/><ellipse cx="696" cy="609" rx="37" ry="17" fill="#7f9db8" fill-opacity="0.62" transform="rotate(-92 696 609)"/><ellipse cx="693" cy="520" rx="54" ry="23" fill="#7f9db8" fill-opacity="0.62" transform="rotate(-92 693 520)"/><path d="M705 840L745 470" stroke="#a9c0d4" stroke-width="5" stroke-opacity="0.45" stroke-linecap="round" fill="none"/><ellipse cx="722" cy="685" rx="28" ry="10" fill="#7f9db8" fill-opacity="0.62" transform="rotate(-84 722 685)"/><ellipse cx="729" cy="618" rx="36" ry="14" fill="#7f9db8" fill-opacity="0.62" transform="rotate(-84 729 618)"/><ellipse cx="738" cy="533" rx="52" ry="20" fill="#7f9db8" fill-opacity="0.62" transform="rotate(-84 738 533)"/><path d="M705 840L790 540" stroke="#a9c0d4" stroke-width="5" stroke-opacity="0.45" stroke-linecap="round" fill="none"/><ellipse cx="741" cy="714" rx="24" ry="10" fill="#7f9db8" fill-opacity="0.62" transform="rotate(-74 741 714)"/><ellipse cx="756" cy="660" rx="31" ry="14" fill="#7f9db8" fill-opacity="0.62" transform="rotate(-74 756 660)"/><ellipse cx="776" cy="591" rx="45" ry="19" fill="#7f9db8" fill-opacity="0.62" transform="rotate(-74 776 591)"/><path d="M705 840L845 470" stroke="#a9c0d4" stroke-width="5" stroke-opacity="0.45" stroke-linecap="round" fill="none"/><ellipse cx="764" cy="685" rx="30" ry="11" fill="#7f9db8" fill-opacity="0.62" transform="rotate(-69 764 685)"/><ellipse cx="789" cy="618" rx="38" ry="16" fill="#7f9db8" fill-opacity="0.62" transform="rotate(-69 789 618)"/><ellipse cx="821" cy="533" rx="55" ry="22" fill="#7f9db8" fill-opacity="0.62" transform="rotate(-69 821 533)"/><path d="M705 840L905 435" stroke="#a9c0d4" stroke-width="5" stroke-opacity="0.45" stroke-linecap="round" fill="none"/><ellipse cx="789" cy="670" rx="33" ry="12" fill="#7f9db8" fill-opacity="0.62" transform="rotate(-64 789 670)"/><ellipse cx="825" cy="597" rx="42" ry="17" fill="#7f9db8" fill-opacity="0.62" transform="rotate(-64 825 597)"/><ellipse cx="871" cy="504" rx="63" ry="23" fill="#7f9db8" fill-opacity="0.62" transform="rotate(-64 871 504)"/><path d="M705 840L950 520" stroke="#a9c0d4" stroke-width="5" stroke-opacity="0.45" stroke-linecap="round" fill="none"/><ellipse cx="808" cy="706" rx="30" ry="10" fill="#7f9db8" fill-opacity="0.62" transform="rotate(-53 808 706)"/><ellipse cx="852" cy="648" rx="38" ry="14" fill="#7f9db8" fill-opacity="0.62" transform="rotate(-53 852 648)"/><ellipse cx="908" cy="574" rx="56" ry="20" fill="#7f9db8" fill-opacity="0.62" transform="rotate(-53 908 574)"/><path d="M705 840L1030 465" stroke="#a9c0d4" stroke-width="5" stroke-opacity="0.45" stroke-linecap="round" fill="none"/><ellipse cx="842" cy="682" rx="36" ry="10" fill="#7f9db8" fill-opacity="0.62" transform="rotate(-49 842 682)"/><ellipse cx="900" cy="615" rx="46" ry="14" fill="#7f9db8" fill-opacity="0.62" transform="rotate(-49 900 615)"/><ellipse cx="975" cy="529" rx="69" ry="20" fill="#7f9db8" fill-opacity="0.62" transform="rotate(-49 975 529)"/><path d="M705 840L990 600" stroke="#a9c0d4" stroke-width="5" stroke-opacity="0.45" stroke-linecap="round" fill="none"/><ellipse cx="825" cy="739" rx="28" ry="10" fill="#7f9db8" fill-opacity="0.62" transform="rotate(-40 825 739)"/><ellipse cx="876" cy="696" rx="36" ry="14" fill="#7f9db8" fill-opacity="0.62" transform="rotate(-40 876 696)"/><ellipse cx="942" cy="641" rx="52" ry="19" fill="#7f9db8" fill-opacity="0.62" transform="rotate(-40 942 641)"/><path d="M705 840L870 620" stroke="#a9c0d4" stroke-width="5" stroke-opacity="0.45" stroke-linecap="round" fill="none"/><ellipse cx="774" cy="748" rx="22" ry="9" fill="#7f9db8" fill-opacity="0.62" transform="rotate(-53 774 748)"/><ellipse cx="804" cy="708" rx="27" ry="13" fill="#7f9db8" fill-opacity="0.62" transform="rotate(-53 804 708)"/><ellipse cx="842" cy="657" rx="40" ry="18" fill="#7f9db8" fill-opacity="0.62" transform="rotate(-53 842 657)"/><path d="M705 840L760 640" stroke="#a9c0d4" stroke-width="5" stroke-opacity="0.45" stroke-linecap="round" fill="none"/><ellipse cx="728" cy="756" rx="17" ry="9" fill="#7f9db8" fill-opacity="0.62" transform="rotate(-75 728 756)"/><ellipse cx="738" cy="720" rx="22" ry="13" fill="#7f9db8" fill-opacity="0.62" transform="rotate(-75 738 720)"/><ellipse cx="751" cy="674" rx="31" ry="18" fill="#7f9db8" fill-opacity="0.62" transform="rotate(-75 751 674)"/><path d="M705 840L930 680" stroke="#a9c0d4" stroke-width="5" stroke-opacity="0.45" stroke-linecap="round" fill="none"/><ellipse cx="800" cy="773" rx="22" ry="8" fill="#7f9db8" fill-opacity="0.62" transform="rotate(-35 800 773)"/><ellipse cx="840" cy="744" rx="27" ry="12" fill="#7f9db8" fill-opacity="0.62" transform="rotate(-35 840 744)"/><ellipse cx="892" cy="707" rx="40" ry="17" fill="#7f9db8" fill-opacity="0.62" transform="rotate(-35 892 707)"/><path d="M705 840L830 700" stroke="#a9c0d4" stroke-width="5" stroke-opacity="0.45" stroke-linecap="round" fill="none"/><ellipse cx="758" cy="781" rx="16" ry="8" fill="#7f9db8" fill-opacity="0.62" transform="rotate(-48 758 781)"/><ellipse cx="780" cy="756" rx="20" ry="12" fill="#7f9db8" fill-opacity="0.62" transform="rotate(-48 780 756)"/><ellipse cx="809" cy="724" rx="28" ry="17" fill="#7f9db8" fill-opacity="0.62" transform="rotate(-48 809 724)"/><ellipse cx="495" cy="655" rx="18.0" ry="48" fill="#7f9db8" fill-opacity="0.5" transform="rotate(10 495 655)"/><ellipse cx="500" cy="750" rx="15.6" ry="36" fill="#7f9db8" fill-opacity="0.5" transform="rotate(-20 500 750)"/><ellipse cx="540" cy="800" rx="14.399999999999999" ry="34" fill="#7f9db8" fill-opacity="0.5" transform="rotate(-50 540 800)"/><ellipse cx="600" cy="835" rx="12.0" ry="30" fill="#7f9db8" fill-opacity="0.5" transform="rotate(-75 600 835)"/><path d="M950 930L1175 500" stroke="#a9c0d4" stroke-width="5" stroke-opacity="0.45" stroke-linecap="round" fill="none"/><ellipse cx="1044" cy="749" rx="36" ry="11" fill="#7f9db8" fill-opacity="0.62" transform="rotate(-62 1044 749)"/><ellipse cx="1085" cy="672" rx="45" ry="16" fill="#7f9db8" fill-opacity="0.62" transform="rotate(-62 1085 672)"/><ellipse cx="1137" cy="573" rx="67" ry="22" fill="#7f9db8" fill-opacity="0.62" transform="rotate(-62 1137 573)"/><path d="M950 930L1130 600" stroke="#a9c0d4" stroke-width="5" stroke-opacity="0.45" stroke-linecap="round" fill="none"/><ellipse cx="1026" cy="791" rx="28" ry="10" fill="#7f9db8" fill-opacity="0.62" transform="rotate(-61 1026 791)"/><ellipse cx="1058" cy="732" rx="36" ry="14" fill="#7f9db8" fill-opacity="0.62" transform="rotate(-61 1058 732)"/><ellipse cx="1099" cy="656" rx="53" ry="19" fill="#7f9db8" fill-opacity="0.62" transform="rotate(-61 1099 656)"/><path d="M950 930L1275 595" stroke="#a9c0d4" stroke-width="5" stroke-opacity="0.45" stroke-linecap="round" fill="none"/><ellipse cx="1086" cy="789" rx="34" ry="11" fill="#7f9db8" fill-opacity="0.62" transform="rotate(-46 1086 789)"/><ellipse cx="1145" cy="729" rx="44" ry="16" fill="#7f9db8" fill-opacity="0.62" transform="rotate(-46 1145 729)"/><ellipse cx="1220" cy="652" rx="65" ry="22" fill="#7f9db8" fill-opacity="0.62" transform="rotate(-46 1220 652)"/><path d="M950 930L1215 700" stroke="#a9c0d4" stroke-width="5" stroke-opacity="0.45" stroke-linecap="round" fill="none"/><ellipse cx="1061" cy="833" rx="27" ry="10" fill="#7f9db8" fill-opacity="0.62" transform="rotate(-41 1061 833)"/><ellipse cx="1109" cy="792" rx="34" ry="14" fill="#7f9db8" fill-opacity="0.62" transform="rotate(-41 1109 792)"/><ellipse cx="1170" cy="739" rx="50" ry="20" fill="#7f9db8" fill-opacity="0.62" transform="rotate(-41 1170 739)"/><path d="M950 930L1325 740" stroke="#a9c0d4" stroke-width="5" stroke-opacity="0.45" stroke-linecap="round" fill="none"/><ellipse cx="1108" cy="850" rx="31" ry="11" fill="#7f9db8" fill-opacity="0.62" transform="rotate(-27 1108 850)"/><ellipse cx="1175" cy="816" rx="40" ry="16" fill="#7f9db8" fill-opacity="0.62" transform="rotate(-27 1175 816)"/><ellipse cx="1261" cy="772" rx="59" ry="22" fill="#7f9db8" fill-opacity="0.62" transform="rotate(-27 1261 772)"/><path d="M950 930L1190 830" stroke="#a9c0d4" stroke-width="5" stroke-opacity="0.45" stroke-linecap="round" fill="none"/><ellipse cx="1051" cy="888" rx="21" ry="12" fill="#7f9db8" fill-opacity="0.62" transform="rotate(-23 1051 888)"/><ellipse cx="1094" cy="870" rx="26" ry="17" fill="#7f9db8" fill-opacity="0.62" transform="rotate(-23 1094 870)"/><ellipse cx="1149" cy="847" rx="38" ry="23" fill="#7f9db8" fill-opacity="0.62" transform="rotate(-23 1149 847)"/><path d="M950 930L1150 760" stroke="#a9c0d4" stroke-width="5" stroke-opacity="0.45" stroke-linecap="round" fill="none"/><ellipse cx="1034" cy="859" rx="21" ry="10" fill="#7f9db8" fill-opacity="0.62" transform="rotate(-40 1034 859)"/><ellipse cx="1070" cy="828" rx="26" ry="14" fill="#7f9db8" fill-opacity="0.62" transform="rotate(-40 1070 828)"/><ellipse cx="1116" cy="789" rx="38" ry="19" fill="#7f9db8" fill-opacity="0.62" transform="rotate(-40 1116 789)"/><path d="M950 930L1085 640" stroke="#a9c0d4" stroke-width="5" stroke-opacity="0.45" stroke-linecap="round" fill="none"/><ellipse cx="1007" cy="808" rx="25" ry="10" fill="#7f9db8" fill-opacity="0.62" transform="rotate(-65 1007 808)"/><ellipse cx="1031" cy="756" rx="31" ry="14" fill="#7f9db8" fill-opacity="0.62" transform="rotate(-65 1031 756)"/><ellipse cx="1062" cy="689" rx="46" ry="19" fill="#7f9db8" fill-opacity="0.62" transform="rotate(-65 1062 689)"/><path d="M950 930L1010 630" stroke="#a9c0d4" stroke-width="5" stroke-opacity="0.45" stroke-linecap="round" fill="none"/><ellipse cx="975" cy="804" rx="24" ry="10" fill="#7f9db8" fill-opacity="0.62" transform="rotate(-79 975 804)"/><ellipse cx="986" cy="750" rx="30" ry="14" fill="#7f9db8" fill-opacity="0.62" transform="rotate(-79 986 750)"/><ellipse cx="1000" cy="681" rx="44" ry="19" fill="#7f9db8" fill-opacity="0.62" transform="rotate(-79 1000 681)"/><path d="M950 930L1060 720" stroke="#a9c0d4" stroke-width="5" stroke-opacity="0.45" stroke-linecap="round" fill="none"/><ellipse cx="996" cy="842" rx="19" ry="9" fill="#7f9db8" fill-opacity="0.62" transform="rotate(-62 996 842)"/><ellipse cx="1016" cy="804" rx="24" ry="13" fill="#7f9db8" fill-opacity="0.62" transform="rotate(-62 1016 804)"/><ellipse cx="1041" cy="756" rx="35" ry="18" fill="#7f9db8" fill-opacity="0.62" transform="rotate(-62 1041 756)"/><path d="M950 930L940 700" stroke="#a9c0d4" stroke-width="5" stroke-opacity="0.45" stroke-linecap="round" fill="none"/><ellipse cx="946" cy="833" rx="19" ry="9" fill="#7f9db8" fill-opacity="0.62" transform="rotate(-92 946 833)"/><ellipse cx="944" cy="792" rx="24" ry="13" fill="#7f9db8" fill-opacity="0.62" transform="rotate(-92 944 792)"/><ellipse cx="942" cy="739" rx="34" ry="18" fill="#7f9db8" fill-opacity="0.62" transform="rotate(-92 942 739)"/><path d="M950 930L880 770" stroke="#a9c0d4" stroke-width="5" stroke-opacity="0.45" stroke-linecap="round" fill="none"/><ellipse cx="921" cy="863" rx="15" ry="8" fill="#7f9db8" fill-opacity="0.62" transform="rotate(-114 921 863)"/><ellipse cx="908" cy="834" rx="19" ry="12" fill="#7f9db8" fill-opacity="0.62" transform="rotate(-114 908 834)"/><ellipse cx="892" cy="797" rx="27" ry="16" fill="#7f9db8" fill-opacity="0.62" transform="rotate(-114 892 797)"/><path d="M950 930L1120 880" stroke="#a9c0d4" stroke-width="5" stroke-opacity="0.45" stroke-linecap="round" fill="none"/><ellipse cx="1021" cy="909" rx="16" ry="10" fill="#7f9db8" fill-opacity="0.62" transform="rotate(-16 1021 909)"/><ellipse cx="1052" cy="900" rx="19" ry="14" fill="#7f9db8" fill-opacity="0.62" transform="rotate(-16 1052 900)"/><ellipse cx="1091" cy="888" rx="27" ry="19" fill="#7f9db8" fill-opacity="0.62" transform="rotate(-16 1091 888)"/><ellipse cx="1352" cy="548" rx="62" ry="20" fill="#7f9db8" fill-opacity="0.65" transform="rotate(22 1352 548)"/><ellipse cx="1045" cy="995" rx="20" ry="38" fill="#7f9db8" fill-opacity="0.6" transform="rotate(-25 1045 995)"/><ellipse cx="705" cy="830" rx="40" ry="36" fill="#a9c2d6" fill-opacity="0.5"/><ellipse cx="945" cy="930" rx="52" ry="36" fill="#bcd0e0" fill-opacity="0.6"/><path d="M710 850Q732 990 745 1010" stroke="#8fa9bf" stroke-width="26" stroke-opacity="0.8" stroke-linecap="round" fill="none"/><path d="M940 950Q955 1048 830 1075" stroke="#c4d6e6" stroke-width="36" stroke-opacity="0.9" stroke-linecap="round" fill="none"/><ellipse cx="755" cy="1055" rx="38" ry="50" fill="#cfe0ee" fill-opacity="0.95" transform="rotate(-20 755 1055)"/><ellipse cx="770" cy="1175" rx="48" ry="52" fill="#8aa3ba" fill-opacity="0.85"/><ellipse cx="790" cy="1260" rx="44" ry="44" fill="#9bb2c6" fill-opacity="0.8"/><ellipse cx="805" cy="1345" rx="38" ry="30" fill="#d5e2ee" fill-opacity="0.95"/></g><g filter="url(#bl2)"><path d="M815 1140L850 1150L865 1190L835 1225L800 1225L790 1260L730 1240L760 1290" stroke="#f2f2ee" stroke-width="8" fill="none" stroke-linejoin="round"/><path d="M700 1245Q678 1342 745 1350" stroke="#c8cc52" stroke-width="16" stroke-opacity="0.95" stroke-linecap="round" fill="none"/><ellipse cx="1425" cy="1088" rx="16" ry="10" fill="#a8c8e0" fill-opacity="0.7"/></g><path d="M1040 1297H1248" stroke="#f4f4f4" stroke-width="7" fill="none" stroke-opacity="0.95"/><text x="1145" y="1278" font-family='"Liberation Serif", serif' font-size="56" font-weight="normal" fill="#f4f4f4" fill-opacity="0.95" text-anchor="middle">500 μm</text></g>
<g transform="translate(1180,1715) scale(0.14661)"><rect x="170" y="365" width="1580" height="1050" fill="#070a0d"/><g filter="url(#bl6)"><circle cx="1134" cy="1127" r="14" fill="#9fb0c0" fill-opacity="0.24"/><circle cx="1310" cy="1304" r="6" fill="#9fb0c0" fill-opacity="0.16"/><circle cx="1615" cy="1036" r="15" fill="#9fb0c0" fill-opacity="0.10"/><circle cx="904" cy="642" r="11" fill="#9fb0c0" fill-opacity="0.18"/><circle cx="220" cy="612" r="9" fill="#9fb0c0" fill-opacity="0.24"/><circle cx="1349" cy="556" r="14" fill="#9fb0c0" fill-opacity="0.10"/><circle cx="1126" cy="524" r="6" fill="#9fb0c0" fill-opacity="0.23"/><circle cx="514" cy="611" r="16" fill="#9fb0c0" fill-opacity="0.23"/><circle cx="634" cy="1342" r="11" fill="#9fb0c0" fill-opacity="0.20"/><circle cx="507" cy="1322" r="13" fill="#9fb0c0" fill-opacity="0.24"/><circle cx="1541" cy="693" r="10" fill="#9fb0c0" fill-opacity="0.11"/><circle cx="419" cy="464" r="9" fill="#9fb0c0" fill-opacity="0.18"/><circle cx="205" cy="1064" r="9" fill="#9fb0c0" fill-opacity="0.13"/><circle cx="1428" cy="871" r="9" fill="#9fb0c0" fill-opacity="0.16"/><circle cx="1257" cy="456" r="16" fill="#9fb0c0" fill-opacity="0.08"/><circle cx="1325" cy="1228" r="6" fill="#9fb0c0" fill-opacity="0.21"/><circle cx="749" cy="967" r="6" fill="#9fb0c0" fill-opacity="0.09"/><circle cx="471" cy="1336" r="8" fill="#9fb0c0" fill-opacity="0.21"/><ellipse cx="580" cy="980" rx="40" ry="110" fill="#b7a8a8" fill-opacity="0.38" transform="rotate(8 580 980)"/><ellipse cx="248" cy="512" rx="26" ry="28" fill="#a9a0a8" fill-opacity="0.3"/><ellipse cx="700" cy="1330" rx="200" ry="110" fill="#3a4a58" fill-opacity="0.45"/></g><g filter="url(#bl4)"><path d="M810 1180Q698 1005 745 810" stroke="#8aa6be" stroke-width="50" stroke-opacity="0.85" stroke-linecap="round" fill="none"/><path d="M870 1170Q925 955 1060 820" stroke="#8aa6be" stroke-width="52" stroke-opacity="0.85" stroke-linecap="round" fill="none"/><path d="M740 820Q650 810 600 600" stroke="#9db6cb" stroke-width="18" stroke-opacity="0.7" stroke-linecap="round" fill="none"/><path d="M760 800Q815 700 810 520" stroke="#9db6cb" stroke-width="18" stroke-opacity="0.7" stroke-linecap="round" fill="none"/><path d="M1040 790Q1105 625 1230 440" stroke="#9db6cb" stroke-width="10" stroke-opacity="0.7" stroke-linecap="round" fill="none"/><path d="M1040 790Q975 725 930 560" stroke="#9db6cb" stroke-width="12" stroke-opacity="0.6" stroke-linecap="round" fill="none"/><ellipse cx="560" cy="505" rx="60" ry="26" fill="#7f9db8" fill-opacity="0.72" transform="rotate(35 560 505)"/><ellipse cx="680" cy="455" rx="52" ry="26" fill="#7f9db8" fill-opacity="0.72" transform="rotate(-55 680 455)"/><ellipse cx="650" cy="520" rx="30" ry="16" fill="#7f9db8" fill-opacity="0.72" transform="rotate(-50 650 520)"/><ellipse cx="620" cy="625" rx="56" ry="26" fill="#7f9db8" fill-opacity="0.72" transform="rotate(30 620 625)"/><ellipse cx="660" cy="715" rx="52" ry="24" fill="#7f9db8" fill-opacity="0.72" transform="rotate(-50 660 715)"/><ellipse cx="745" cy="575" rx="50" ry="24" fill="#7f9db8" fill-opacity="0.72" transform="rotate(35 745 575)"/><ellipse cx="760" cy="640" rx="52" ry="24" fill="#7f9db8" fill-opacity="0.72" transform="rotate(-25 760 640)"/><ellipse cx="800" cy="560" rx="60" ry="22" fill="#7f9db8" fill-opacity="0.72" transform="rotate(-80 800 560)"/><ellipse cx="885" cy="505" rx="62" ry="26" fill="#7f9db8" fill-opacity="0.72" transform="rotate(5 885 505)"/><ellipse cx="925" cy="575" rx="50" ry="22" fill="#7f9db8" fill-opacity="0.72" transform="rotate(60 925 575)"/><ellipse cx="880" cy="690" rx="40" ry="18" fill="#7f9db8" fill-opacity="0.72" transform="rotate(40 880 690)"/><ellipse cx="960" cy="690" rx="60" ry="20" fill="#7f9db8" fill-opacity="0.72" transform="rotate(85 960 690)"/><ellipse cx="1000" cy="640" rx="50" ry="22" fill="#7f9db8" fill-opacity="0.72" transform="rotate(60 1000 640)"/><ellipse cx="850" cy="745" rx="50" ry="22" fill="#7f9db8" fill-opacity="0.72" transform="rotate(-20 850 745)"/><ellipse cx="890" cy="775" rx="50" ry="22" fill="#7f9db8" fill-opacity="0.72" transform="rotate(-10 890 775)"/><ellipse cx="720" cy="735" rx="40" ry="20" fill="#7f9db8" fill-opacity="0.72" transform="rotate(60 720 735)"/><ellipse cx="1315" cy="395" rx="62" ry="28" fill="#7f9db8" fill-opacity="0.72" transform="rotate(-20 1315 395)"/><ellipse cx="1215" cy="440" rx="50" ry="24" fill="#7f9db8" fill-opacity="0.72" transform="rotate(-40 1215 440)"/><ellipse cx="1165" cy="500" rx="46" ry="24" fill="#7f9db8" fill-opacity="0.72" transform="rotate(-55 1165 500)"/><ellipse cx="1220" cy="520" rx="56" ry="24" fill="#7f9db8" fill-opacity="0.72" transform="rotate(-60 1220 520)"/><ellipse cx="1170" cy="600" rx="40" ry="20" fill="#7f9db8" fill-opacity="0.72" transform="rotate(-60 1170 600)"/><ellipse cx="1100" cy="640" rx="50" ry="22" fill="#7f9db8" fill-opacity="0.72" transform="rotate(-65 1100 640)"/><ellipse cx="1150" cy="650" rx="44" ry="22" fill="#7f9db8" fill-opacity="0.72" transform="rotate(-55 1150 650)"/><ellipse cx="1330" cy="670" rx="52" ry="26" fill="#7f9db8" fill-opacity="0.72" transform="rotate(-60 1330 670)"/><ellipse cx="1250" cy="695" rx="48" ry="26" fill="#7f9db8" fill-opacity="0.72" transform="rotate(-35 1250 695)"/><ellipse cx="1180" cy="745" rx="50" ry="20" fill="#7f9db8" fill-opacity="0.72" transform="rotate(-20 1180 745)"/><ellipse cx="1130" cy="760" rx="44" ry="18" fill="#7f9db8" fill-opacity="0.72" transform="rotate(-15 1130 760)"/><ellipse cx="1260" cy="760" rx="44" ry="18" fill="#7f9db8" fill-opacity="0.72" transform="rotate(-25 1260 760)"/><ellipse cx="1300" cy="860" rx="54" ry="26" fill="#7f9db8" fill-opacity="0.72" transform="rotate(-25 1300 860)"/><ellipse cx="1300" cy="920" rx="56" ry="26" fill="#7f9db8" fill-opacity="0.72" transform="rotate(-10 1300 920)"/><ellipse cx="1220" cy="880" rx="44" ry="30" fill="#7f9db8" fill-opacity="0.72"/><ellipse cx="1130" cy="935" rx="52" ry="22" fill="#7f9db8" fill-opacity="0.72" transform="rotate(-5 1130 935)"/><ellipse cx="1190" cy="965" rx="50" ry="22" fill="#7f9db8" fill-opacity="0.72" transform="rotate(-60 1190 965)"/><ellipse cx="1255" cy="820" rx="40" ry="18" fill="#7f9db8" fill-opacity="0.72" transform="rotate(-20 1255 820)"/><ellipse cx="1125" cy="1150" rx="26" ry="56" fill="#7f9db8" fill-opacity="0.72"/></g><g filter="url(#bl3)"><ellipse cx="690" cy="1260" rx="70" ry="36" fill="#d8e8f4" fill-opacity="0.9"/><ellipse cx="790" cy="1235" rx="60" ry="45" fill="#c9dcec" fill-opacity="0.9"/><ellipse cx="855" cy="1200" rx="40" ry="40" fill="#eef4f8" fill-opacity="0.95"/><ellipse cx="900" cy="1345" rx="60" ry="50" fill="#dbe9f4" fill-opacity="0.95"/><ellipse cx="930" cy="1295" rx="60" ry="30" fill="#e8f0f6" fill-opacity="0.85"/><ellipse cx="800" cy="1290" rx="50" ry="22" fill="#c8d6b0" fill-opacity="0.8"/><path d="M840 1370Q785 1408 750 1415" stroke="#b0b8c0" stroke-width="10" stroke-opacity="0.7" stroke-linecap="round" fill="none"/></g><path d="M1075 1290H1297" stroke="#f4f4f4" stroke-width="7" fill="none" stroke-opacity="0.8"/><text x="1185" y="1272" font-family='"Liberation Serif", serif' font-size="44" font-weight="normal" fill="#f4f4f4" fill-opacity="0.8" text-anchor="middle">500 μm</text></g>
<g transform="translate(1450,1465) scale(0.13613)"><rect x="30" y="68" width="1790" height="1795" fill="#040506"/><g filter="url(#bl6)"><circle cx="347" cy="1300" r="17" fill="#a8a4ac" fill-opacity="0.19"/><circle cx="436" cy="1479" r="19" fill="#a8a4ac" fill-opacity="0.19"/><circle cx="939" cy="511" r="8" fill="#a8a4ac" fill-opacity="0.16"/><circle cx="1079" cy="221" r="19" fill="#a8a4ac" fill-opacity="0.13"/><circle cx="465" cy="174" r="22" fill="#a8a4ac" fill-opacity="0.24"/><circle cx="1583" cy="1172" r="8" fill="#a8a4ac" fill-opacity="0.15"/><circle cx="926" cy="302" r="21" fill="#a8a4ac" fill-opacity="0.16"/><circle cx="329" cy="1522" r="10" fill="#a8a4ac" fill-opacity="0.28"/><circle cx="848" cy="1060" r="13" fill="#a8a4ac" fill-opacity="0.19"/><circle cx="385" cy="165" r="20" fill="#a8a4ac" fill-opacity="0.13"/><circle cx="1418" cy="463" r="22" fill="#a8a4ac" fill-opacity="0.28"/><circle cx="1373" cy="1427" r="16" fill="#a8a4ac" fill-opacity="0.24"/><circle cx="273" cy="929" r="20" fill="#a8a4ac" fill-opacity="0.12"/><circle cx="1666" cy="1644" r="14" fill="#a8a4ac" fill-opacity="0.16"/><circle cx="845" cy="771" r="22" fill="#a8a4ac" fill-opacity="0.17"/><circle cx="107" cy="262" r="18" fill="#a8a4ac" fill-opacity="0.30"/><circle cx="923" cy="955" r="16" fill="#a8a4ac" fill-opacity="0.24"/><circle cx="446" cy="1159" r="16" fill="#a8a4ac" fill-opacity="0.22"/><circle cx="374" cy="396" r="13" fill="#a8a4ac" fill-opacity="0.28"/><circle cx="663" cy="1139" r="12" fill="#a8a4ac" fill-opacity="0.10"/><circle cx="174" cy="1516" r="19" fill="#a8a4ac" fill-opacity="0.16"/><circle cx="1249" cy="1276" r="21" fill="#a8a4ac" fill-opacity="0.29"/><circle cx="768" cy="1821" r="21" fill="#a8a4ac" fill-opacity="0.21"/><circle cx="1597" cy="954" r="13" fill="#a8a4ac" fill-opacity="0.13"/><circle cx="1584" cy="382" r="9" fill="#a8a4ac" fill-opacity="0.26"/><circle cx="1407" cy="941" r="20" fill="#a8a4ac" fill-opacity="0.09"/><circle cx="509" cy="604" r="14" fill="#a8a4ac" fill-opacity="0.12"/><circle cx="181" cy="688" r="21" fill="#a8a4ac" fill-opacity="0.30"/><circle cx="1358" cy="933" r="12" fill="#a8a4ac" fill-opacity="0.29"/><circle cx="975" cy="1368" r="8" fill="#a8a4ac" fill-opacity="0.13"/><ellipse cx="900" cy="760" rx="760" ry="500" fill="#4a5060" fill-opacity="0.08"/><ellipse cx="1365" cy="1365" rx="26" ry="26" fill="#c8bcc0" fill-opacity="0.5"/><ellipse cx="1780" cy="1470" rx="22" ry="22" fill="#c8bcc0" fill-opacity="0.4"/><ellipse cx="705" cy="1465" rx="20" ry="20" fill="#c8bcc0" fill-opacity="0.3"/><ellipse cx="80" cy="1030" rx="24" ry="24" fill="#c8bcc0" fill-opacity="0.3"/><ellipse cx="105" cy="190" rx="20" ry="20" fill="#c8bcc0" fill-opacity="0.3"/><ellipse cx="1400" cy="135" rx="22" ry="22" fill="#c8bcc0" fill-opacity="0.3"/><ellipse cx="330" cy="1710" rx="24" ry="24" fill="#c8bcc0" fill-opacity="0.3"/><ellipse cx="480" cy="130" rx="16" ry="16" fill="#c8bcc0" fill-opacity="0.4"/><ellipse cx="1790" cy="1710" rx="20" ry="20" fill="#c8bcc0" fill-opacity="0.3"/></g><g transform="translate(110.2 146.9) scale(0.8461)"><g filter="url(#bl5)"><path d="M190 230Q185 52 360 185" stroke="#4e5466" stroke-width="40" stroke-opacity="0.7" stroke-linecap="round" fill="none"/><path d="M1400 170Q1570 80 1700 110" stroke="#5a6072" stroke-width="40" stroke-opacity="0.7" stroke-linecap="round" fill="none"/><path d="M1750 85Q1835 82 1900 30" stroke="#a0a4b2" stroke-width="60" stroke-opacity="0.8" stroke-linecap="round" fill="none"/><path d="M380 270L440 280" stroke="#596072" stroke-width="40" stroke-opacity="0.6" stroke-linecap="round" fill="none"/><path d="M560 290L680 290" stroke="#596072" stroke-width="40" stroke-opacity="0.6" stroke-linecap="round" fill="none"/><path d="M1130 200L1210 150" stroke="#596072" stroke-width="35" stroke-opacity="0.6" stroke-linecap="round" fill="none"/><path d="M1200 230L1260 200" stroke="#596072" stroke-width="35" stroke-opacity="0.6" stroke-linecap="round" fill="none"/><ellipse cx="1530" cy="420" rx="180" ry="170" fill="#8c90a2" fill-opacity="0.5"/><ellipse cx="620" cy="340" rx="130" ry="60" fill="#70768a" fill-opacity="0.35"/><ellipse cx="640" cy="880" rx="150" ry="110" fill="#8a90a4" fill-opacity="0.6"/><ellipse cx="1420" cy="870" rx="90" ry="90" fill="#8a90a4" fill-opacity="0.6"/><ellipse cx="300" cy="800" rx="230" ry="300" fill="#3c4050" fill-opacity="0.45"/><path d="M250 570L370 660" stroke="#20222a" stroke-width="111" stroke-opacity="0.5" stroke-linecap="round" fill="none"/><path d="M200 700L310 800" stroke="#20222a" stroke-width="116" stroke-opacity="0.5" stroke-linecap="round" fill="none"/><path d="M150 780L280 900" stroke="#20222a" stroke-width="116" stroke-opacity="0.5" stroke-linecap="round" fill="none"/><path d="M120 910L240 1010" stroke="#20222a" stroke-width="122" stroke-opacity="0.5" stroke-linecap="round" fill="none"/><path d="M320 1150L430 1250" stroke="#20222a" stroke-width="122" stroke-opacity="0.5" stroke-linecap="round" fill="none"/><path d="M410 1130L530 1190" stroke="#20222a" stroke-width="88" stroke-opacity="0.5" stroke-linecap="round" fill="none"/><path d="M1750 725L1750 925" stroke="#20222a" stroke-width="116" stroke-opacity="0.5" stroke-linecap="round" fill="none"/><path d="M1660 705L1650 865" stroke="#20222a" stroke-width="88" stroke-opacity="0.5" stroke-linecap="round" fill="none"/><path d="M250 570L370 660" stroke="#a2a6b6" stroke-width="101" stroke-opacity="0.97" stroke-linecap="round" fill="none"/><path d="M200 700L310 800" stroke="#a2a6b6" stroke-width="106" stroke-opacity="0.97" stroke-linecap="round" fill="none"/><path d="M150 780L280 900" stroke="#a2a6b6" stroke-width="106" stroke-opacity="0.97" stroke-linecap="round" fill="none"/><path d="M120 910L240 1010" stroke="#a2a6b6" stroke-width="112" stroke-opacity="0.97" stroke-linecap="round" fill="none"/><path d="M320 1150L430 1250" stroke="#a2a6b6" stroke-width="112" stroke-opacity="0.97" stroke-linecap="round" fill="none"/><path d="M410 1130L530 1190" stroke="#a2a6b6" stroke-width="78" stroke-opacity="0.97" stroke-linecap="round" fill="none"/><path d="M1750 725L1750 925" stroke="#a2a6b6" stroke-width="106" stroke-opacity="0.97" stroke-linecap="round" fill="none"/><path d="M1660 705L1650 865" stroke="#a2a6b6" stroke-width="78" stroke-opacity="0.97" stroke-linecap="round" fill="none"/><ellipse cx="215" cy="470" rx="72" ry="50" fill="#c2c4d2" fill-opacity="0.95" transform="rotate(20 215 470)"/><path d="M250 260Q470 260 410 540" stroke="#1a1c24" stroke-width="122" stroke-opacity="0.45" stroke-linecap="round" fill="none"/><path d="M250 260Q470 260 410 540" stroke="#b9bed0" stroke-width="108" stroke-linecap="round" fill="none"/><path d="M530 400Q610 605 450 710" stroke="#1a1c24" stroke-width="134" stroke-opacity="0.45" stroke-linecap="round" fill="none"/><path d="M530 400Q610 605 450 710" stroke="#d0d3e0" stroke-width="120" stroke-linecap="round" fill="none"/><path d="M620 470Q700 635 540 740" stroke="#1a1c24" stroke-width="117" stroke-opacity="0.45" stroke-linecap="round" fill="none"/><path d="M620 470Q700 635 540 740" stroke="#c4c8d8" stroke-width="103" stroke-linecap="round" fill="none"/><path d="M710 490Q895 635 700 800" stroke="#1a1c24" stroke-width="117" stroke-opacity="0.45" stroke-linecap="round" fill="none"/><path d="M710 490Q895 635 700 800" stroke="#b9bed0" stroke-width="103" stroke-linecap="round" fill="none"/><path d="M870 590Q985 755 760 860" stroke="#1a1c24" stroke-width="117" stroke-opacity="0.45" stroke-linecap="round" fill="none"/><path d="M870 590Q985 755 760 860" stroke="#b9bed0" stroke-width="103" stroke-linecap="round" fill="none"/><path d="M970 740Q1060 915 790 950" stroke="#1a1c24" stroke-width="117" stroke-opacity="0.45" stroke-linecap="round" fill="none"/><path d="M970 740Q1060 915 790 950" stroke="#b9bed0" stroke-width="103" stroke-linecap="round" fill="none"/><path d="M1040 850Q1090 1035 780 1040" stroke="#1a1c24" stroke-width="111" stroke-opacity="0.45" stroke-linecap="round" fill="none"/><path d="M1040 850Q1090 1035 780 1040" stroke="#b9bed0" stroke-width="97" stroke-linecap="round" fill="none"/><path d="M600 910Q765 1110 430 1110" stroke="#1a1c24" stroke-width="111" stroke-opacity="0.45" stroke-linecap="round" fill="none"/><path d="M600 910Q765 1110 430 1110" stroke="#b9bed0" stroke-width="97" stroke-linecap="round" fill="none"/><path d="M950 200Q730 220 830 480" stroke="#1a1c24" stroke-width="117" stroke-opacity="0.45" stroke-linecap="round" fill="none"/><path d="M950 200Q730 220 830 480" stroke="#b9bed0" stroke-width="103" stroke-linecap="round" fill="none"/><path d="M980 350Q810 485 1000 680" stroke="#1a1c24" stroke-width="117" stroke-opacity="0.45" stroke-linecap="round" fill="none"/><path d="M980 350Q810 485 1000 680" stroke="#b9bed0" stroke-width="103" stroke-linecap="round" fill="none"/><path d="M1210 400Q1035 555 1240 730" stroke="#1a1c24" stroke-width="122" stroke-opacity="0.45" stroke-linecap="round" fill="none"/><path d="M1210 400Q1035 555 1240 730" stroke="#b9bed0" stroke-width="108" stroke-linecap="round" fill="none"/><path d="M1310 400Q1140 555 1370 730" stroke="#1a1c24" stroke-width="122" stroke-opacity="0.45" stroke-linecap="round" fill="none"/><path d="M1310 400Q1140 555 1370 730" stroke="#b9bed0" stroke-width="108" stroke-linecap="round" fill="none"/><path d="M1380 440Q1320 575 1420 650" stroke="#1a1c24" stroke-width="133" stroke-opacity="0.45" stroke-linecap="round" fill="none"/><path d="M1380 440Q1320 575 1420 650" stroke="#d0d3e0" stroke-width="119" stroke-linecap="round" fill="none"/><path d="M1110 630Q970 820 1190 930" stroke="#1a1c24" stroke-width="117" stroke-opacity="0.45" stroke-linecap="round" fill="none"/><path d="M1110 630Q970 820 1190 930" stroke="#b9bed0" stroke-width="103" stroke-linecap="round" fill="none"/><path d="M1300 800Q1405 990 1090 1060" stroke="#1a1c24" stroke-width="111" stroke-opacity="0.45" stroke-linecap="round" fill="none"/><path d="M1300 800Q1405 990 1090 1060" stroke="#b9bed0" stroke-width="97" stroke-linecap="round" fill="none"/><path d="M1570 650Q1630 840 1490 950" stroke="#1a1c24" stroke-width="128" stroke-opacity="0.45" stroke-linecap="round" fill="none"/><path d="M1570 650Q1630 840 1490 950" stroke="#dcdee8" stroke-width="114" stroke-linecap="round" fill="none"/><path d="M1490 540Q1495 570 1500 600" stroke="#1a1c24" stroke-width="82" stroke-opacity="0.45" stroke-linecap="round" fill="none"/><path d="M1490 540Q1495 570 1500 600" stroke="#d0d3e0" stroke-width="68" stroke-linecap="round" fill="none"/><path d="M1630 540Q1635 570 1640 600" stroke="#1a1c24" stroke-width="82" stroke-opacity="0.45" stroke-linecap="round" fill="none"/><path d="M1630 540Q1635 570 1640 600" stroke="#b9bed0" stroke-width="68" stroke-linecap="round" fill="none"/><path d="M1400 300Q1385 315 1370 330" stroke="#1a1c24" stroke-width="117" stroke-opacity="0.45" stroke-linecap="round" fill="none"/><path d="M1400 300Q1385 315 1370 330" stroke="#b8bac8" stroke-width="103" stroke-linecap="round" fill="none"/><path d="M1380 1012Q1832 994 1755 960" stroke="#a0a6b4" stroke-width="9" stroke-opacity="0.8" stroke-linecap="round" fill="none"/></g><g filter="url(#bl4)"><path d="M690 1060L760 1140" stroke="#f4f6fa" stroke-width="40" stroke-linecap="round" fill="none"/><path d="M775 1155L840 1260" stroke="#c8d0e2" stroke-width="70" stroke-linecap="round" fill="none"/><path d="M760 1130L800 1170" stroke="#f4f6fa" stroke-width="50" stroke-linecap="round" fill="none"/><path d="M1180 1150L1060 1260" stroke="#f4f6fa" stroke-width="80" stroke-linecap="round" fill="none"/><path d="M850 1290L880 1370" stroke="#a8b0c4" stroke-width="34" stroke-opacity="0.9" stroke-linecap="round" fill="none"/><path d="M1030 1290L980 1370" stroke="#a8b0c4" stroke-width="46" stroke-opacity="0.9" stroke-linecap="round" fill="none"/></g></g><g filter="url(#bl5)"><ellipse cx="860" cy="1340" rx="60" ry="50" fill="#a3abbc" fill-opacity="0.8"/><ellipse cx="930" cy="1420" rx="110" ry="80" fill="#a3abbc" fill-opacity="0.75"/><ellipse cx="1060" cy="1330" rx="80" ry="50" fill="#a3abbc" fill-opacity="0.6"/><ellipse cx="1120" cy="1290" rx="40" ry="30" fill="#a3abbc" fill-opacity="0.5"/><ellipse cx="1100" cy="1480" rx="90" ry="50" fill="#a3abbc" fill-opacity="0.75"/><ellipse cx="1180" cy="1500" rx="50" ry="60" fill="#a3abbc" fill-opacity="0.6"/><ellipse cx="1270" cy="1560" rx="70" ry="30" fill="#a3abbc" fill-opacity="0.6"/><ellipse cx="830" cy="1570" rx="70" ry="60" fill="#a3abbc" fill-opacity="0.6"/><ellipse cx="880" cy="1640" rx="60" ry="50" fill="#a3abbc" fill-opacity="0.55"/><ellipse cx="960" cy="1670" rx="50" ry="40" fill="#a3abbc" fill-opacity="0.6"/><ellipse cx="1020" cy="1520" rx="40" ry="40" fill="#a3abbc" fill-opacity="0.6"/><ellipse cx="835" cy="1465" rx="40" ry="55" fill="#c9c68a" fill-opacity="0.8" transform="rotate(-30 835 1465)"/></g><path d="M1435 1692H1675" stroke="#f4f4f4" stroke-width="7" fill="none" stroke-opacity="0.95"/><text x="1555" y="1662" font-family='"Liberation Serif", serif' font-size="66" font-weight="bold" fill="#f4f4f4" fill-opacity="0.95" text-anchor="middle">500 μm</text></g>
<g transform="translate(1450,1715) scale(0.13978)"><rect x="25" y="70" width="1750" height="1745" fill="#040405"/><g filter="url(#bl6)"><circle cx="81" cy="289" r="12" fill="#a8a0a4" fill-opacity="0.23"/><circle cx="296" cy="289" r="10" fill="#a8a0a4" fill-opacity="0.25"/><circle cx="311" cy="1344" r="16" fill="#a8a0a4" fill-opacity="0.11"/><circle cx="971" cy="852" r="12" fill="#a8a0a4" fill-opacity="0.30"/><circle cx="218" cy="134" r="19" fill="#a8a0a4" fill-opacity="0.17"/><circle cx="397" cy="655" r="12" fill="#a8a0a4" fill-opacity="0.29"/><circle cx="418" cy="464" r="15" fill="#a8a0a4" fill-opacity="0.20"/><circle cx="1681" cy="1509" r="12" fill="#a8a0a4" fill-opacity="0.12"/><circle cx="1482" cy="1761" r="7" fill="#a8a0a4" fill-opacity="0.24"/><circle cx="1536" cy="1194" r="10" fill="#a8a0a4" fill-opacity="0.26"/><circle cx="1301" cy="426" r="15" fill="#a8a0a4" fill-opacity="0.13"/><circle cx="130" cy="664" r="11" fill="#a8a0a4" fill-opacity="0.17"/><circle cx="1159" cy="1505" r="19" fill="#a8a0a4" fill-opacity="0.29"/><circle cx="1749" cy="1427" r="11" fill="#a8a0a4" fill-opacity="0.12"/><circle cx="1120" cy="1017" r="16" fill="#a8a0a4" fill-opacity="0.10"/><circle cx="388" cy="1647" r="15" fill="#a8a0a4" fill-opacity="0.23"/><circle cx="223" cy="771" r="19" fill="#a8a0a4" fill-opacity="0.22"/><circle cx="1746" cy="431" r="13" fill="#a8a0a4" fill-opacity="0.26"/><circle cx="816" cy="1425" r="14" fill="#a8a0a4" fill-opacity="0.11"/><circle cx="228" cy="1751" r="9" fill="#a8a0a4" fill-opacity="0.12"/><circle cx="630" cy="1299" r="18" fill="#a8a0a4" fill-opacity="0.18"/><circle cx="907" cy="1425" r="11" fill="#a8a0a4" fill-opacity="0.16"/><circle cx="1102" cy="1169" r="7" fill="#a8a0a4" fill-opacity="0.10"/><circle cx="294" cy="1318" r="16" fill="#a8a0a4" fill-opacity="0.29"/><circle cx="1365" cy="528" r="17" fill="#a8a0a4" fill-opacity="0.30"/><circle cx="653" cy="119" r="12" fill="#a8a0a4" fill-opacity="0.14"/><circle cx="359" cy="176" r="9" fill="#a8a0a4" fill-opacity="0.27"/><circle cx="145" cy="1131" r="10" fill="#a8a0a4" fill-opacity="0.12"/><circle cx="1455" cy="602" r="9" fill="#a8a0a4" fill-opacity="0.18"/><circle cx="1241" cy="981" r="18" fill="#a8a0a4" fill-opacity="0.17"/><circle cx="951" cy="1305" r="13" fill="#a8a0a4" fill-opacity="0.24"/><circle cx="854" cy="325" r="9" fill="#a8a0a4" fill-opacity="0.25"/><circle cx="1326" cy="1684" r="16" fill="#a8a0a4" fill-opacity="0.21"/><circle cx="342" cy="1533" r="9" fill="#a8a0a4" fill-opacity="0.17"/><circle cx="299" cy="740" r="11" fill="#a8a0a4" fill-opacity="0.17"/><circle cx="1269" cy="1010" r="10" fill="#a8a0a4" fill-opacity="0.25"/><ellipse cx="860" cy="840" rx="680" ry="460" fill="#50505a" fill-opacity="0.07"/><ellipse cx="55" cy="1225" rx="30" ry="27.0" fill="#c8bcc0" fill-opacity="0.6"/><ellipse cx="210" cy="785" rx="22" ry="19.8" fill="#c8bcc0" fill-opacity="0.4"/><ellipse cx="315" cy="800" rx="20" ry="18.0" fill="#c8bcc0" fill-opacity="0.35"/><ellipse cx="265" cy="930" rx="24" ry="21.6" fill="#c8bcc0" fill-opacity="0.35"/><ellipse cx="1110" cy="520" rx="30" ry="27.0" fill="#c8bcc0" fill-opacity="0.3"/><ellipse cx="1585" cy="1040" rx="24" ry="21.6" fill="#c8bcc0" fill-opacity="0.3"/><ellipse cx="1110" cy="1640" rx="40" ry="36.0" fill="#c8bcc0" fill-opacity="0.4"/><ellipse cx="900" cy="1625" rx="30" ry="27.0" fill="#c8bcc0" fill-opacity="0.4"/><ellipse cx="575" cy="1275" rx="20" ry="18.0" fill="#c8bcc0" fill-opacity="0.3"/><ellipse cx="1690" cy="1320" rx="18" ry="16.2" fill="#c8bcc0" fill-opacity="0.3"/><ellipse cx="1265" cy="240" rx="18" ry="16.2" fill="#c8bcc0" fill-opacity="0.25"/><ellipse cx="1630" cy="115" rx="18" ry="16.2" fill="#c8bcc0" fill-opacity="0.25"/></g><g filter="url(#bl4)"><path d="M510 520Q510 365 630 430" stroke="#6a7488" stroke-width="26" stroke-opacity="0.6" stroke-linecap="round" fill="none"/><path d="M660 500Q715 375 790 470" stroke="#8088a0" stroke-width="30" stroke-opacity="0.6" stroke-linecap="round" fill="none"/><path d="M1110 600Q1100 470 1290 540" stroke="#8890a4" stroke-width="24" stroke-opacity="0.7" stroke-linecap="round" fill="none"/><path d="M620 560L640 680" stroke="#8f98ac" stroke-width="60" stroke-opacity="0.8" stroke-linecap="round" fill="none"/><path d="M780 530L830 500" stroke="#8088a0" stroke-width="50" stroke-opacity="0.6" stroke-linecap="round" fill="none"/><path d="M840 570L930 525L1060 620L1150 660L1290 850L1310 920L1100 985L990 860Z" fill="#a2a6b0" fill-opacity="0.8"/><ellipse cx="540" cy="1000" rx="120" ry="80" fill="#5a5a68" fill-opacity="0.35"/><path d="M430 1000Q425 1115 600 1090" stroke="#8a90a4" stroke-width="22" stroke-opacity="0.6" stroke-linecap="round" fill="none"/><path d="M400 925Q540 922 600 950" stroke="#b8b0b8" stroke-width="10" stroke-opacity="0.6" stroke-linecap="round" fill="none"/><path d="M870 1010L960 930" stroke="#7a8090" stroke-width="40" stroke-opacity="0.7" stroke-linecap="round" fill="none"/><path d="M385 670Q382 765 450 840" stroke="#1c1e24" stroke-width="130" stroke-opacity="0.55" stroke-linecap="round" fill="none"/><path d="M385 670Q382 765 450 840" stroke="#b4bac4" stroke-width="118" stroke-linecap="round" fill="none"/><path d="M480 640Q495 730 530 780" stroke="#1c1e24" stroke-width="122" stroke-opacity="0.55" stroke-linecap="round" fill="none"/><path d="M480 640Q495 730 530 780" stroke="#d6d8d6" stroke-width="110" stroke-linecap="round" fill="none"/><path d="M560 610Q568 690 585 730" stroke="#1c1e24" stroke-width="78" stroke-opacity="0.55" stroke-linecap="round" fill="none"/><path d="M560 610Q568 690 585 730" stroke="#b4bac4" stroke-width="66" stroke-linecap="round" fill="none"/><path d="M650 790Q645 890 700 950" stroke="#1c1e24" stroke-width="96" stroke-opacity="0.55" stroke-linecap="round" fill="none"/><path d="M650 790Q645 890 700 950" stroke="#aab2c0" stroke-width="84" stroke-linecap="round" fill="none"/><path d="M745 650Q735 750 765 810" stroke="#1c1e24" stroke-width="124" stroke-opacity="0.55" stroke-linecap="round" fill="none"/><path d="M745 650Q735 750 765 810" stroke="#e0e0dc" stroke-width="112" stroke-linecap="round" fill="none"/><path d="M860 690Q878 768 925 815" stroke="#1c1e24" stroke-width="112" stroke-opacity="0.55" stroke-linecap="round" fill="none"/><path d="M860 690Q878 768 925 815" stroke="#e0e0da" stroke-width="100" stroke-linecap="round" fill="none"/><path d="M835 840Q838 932 810 975" stroke="#1c1e24" stroke-width="96" stroke-opacity="0.55" stroke-linecap="round" fill="none"/><path d="M835 840Q838 932 810 975" stroke="#d6d8d6" stroke-width="84" stroke-linecap="round" fill="none"/><path d="M1185 675Q1298 712 1300 780" stroke="#1c1e24" stroke-width="108" stroke-opacity="0.55" stroke-linecap="round" fill="none"/><path d="M1185 675Q1298 712 1300 780" stroke="#d0d4da" stroke-width="96" stroke-linecap="round" fill="none"/><path d="M1150 735Q1212 772 1225 800" stroke="#1c1e24" stroke-width="76" stroke-opacity="0.55" stroke-linecap="round" fill="none"/><path d="M1150 735Q1212 772 1225 800" stroke="#dcdcdc" stroke-width="64" stroke-linecap="round" fill="none"/><path d="M1345 620Q1432 695 1390 790" stroke="#1c1e24" stroke-width="128" stroke-opacity="0.55" stroke-linecap="round" fill="none"/><path d="M1345 620Q1432 695 1390 790" stroke="#d4d8dc" stroke-width="116" stroke-linecap="round" fill="none"/><path d="M1025 875Q1035 945 1065 955" stroke="#1c1e24" stroke-width="78" stroke-opacity="0.55" stroke-linecap="round" fill="none"/><path d="M1025 875Q1035 945 1065 955" stroke="#d0d4da" stroke-width="66" stroke-linecap="round" fill="none"/><path d="M1170 1050Q1290 1092 1370 1005" stroke="#1c1e24" stroke-width="112" stroke-opacity="0.55" stroke-linecap="round" fill="none"/><path d="M1170 1050Q1290 1092 1370 1005" stroke="#d2d6da" stroke-width="100" stroke-linecap="round" fill="none"/><path d="M1120 920Q1215 870 1330 940" stroke="#c0c4cc" stroke-width="18" stroke-opacity="0.8" stroke-linecap="round" fill="none"/></g><g filter="url(#bl3)"><path d="M1095 1035Q998 1058 950 1170" stroke="#d4dae4" stroke-width="50" stroke-linecap="round" fill="none"/><path d="M1130 1110L1080 1160" stroke="#a8b0c0" stroke-width="40" stroke-opacity="0.9" stroke-linecap="round" fill="none"/><path d="M785 1110L815 1150" stroke="#b8c4d8" stroke-width="62" stroke-opacity="0.95" stroke-linecap="round" fill="none"/><path d="M720 1030L760 1090" stroke="#909ab0" stroke-width="40" stroke-opacity="0.8" stroke-linecap="round" fill="none"/><path d="M850 1200Q885 1245 980 1230" stroke="#b0b8c8" stroke-width="44" stroke-opacity="0.9" stroke-linecap="round" fill="none"/><ellipse cx="900" cy="1325" rx="40" ry="30" fill="#e4e4e4" fill-opacity="0.9"/><ellipse cx="1120" cy="1300" rx="50" ry="40" fill="#d4d8e0" fill-opacity="0.9"/><ellipse cx="1150" cy="1350" rx="40" ry="25" fill="#e8e8e8" fill-opacity="0.9"/><ellipse cx="1010" cy="1395" rx="50" ry="40" fill="#e0e0e4" fill-opacity="0.9"/><ellipse cx="975" cy="1275" rx="28" ry="20" fill="#d0c040" fill-opacity="0.9"/><ellipse cx="950" cy="1330" rx="14" ry="30" fill="#c8c860" fill-opacity="0.8"/><ellipse cx="1245" cy="1425" rx="24" ry="14" fill="#8a92a4" fill-opacity="0.7"/></g><path d="M1315 1442H1550" stroke="#f4f4f4" stroke-width="7" fill="none" stroke-opacity="0.95"/><text x="1432" y="1412" font-family='"Liberation Serif", serif' font-size="66" font-weight="bold" fill="#f4f4f4" fill-opacity="0.95" text-anchor="middle">500 μm</text></g>
<g transform="translate(1700,1465) scale(0.14661)"><rect x="55" y="80" width="1660" height="1650" fill="#030303"/><g filter="url(#bl6)"><circle cx="697" cy="469" r="9" fill="#a8a4a4" fill-opacity="0.26"/><circle cx="1016" cy="1204" r="13" fill="#a8a4a4" fill-opacity="0.16"/><circle cx="1265" cy="1022" r="16" fill="#a8a4a4" fill-opacity="0.21"/><circle cx="1440" cy="803" r="9" fill="#a8a4a4" fill-opacity="0.11"/><circle cx="1252" cy="368" r="14" fill="#a8a4a4" fill-opacity="0.20"/><circle cx="176" cy="1355" r="7" fill="#a8a4a4" fill-opacity="0.25"/><circle cx="1442" cy="445" r="15" fill="#a8a4a4" fill-opacity="0.23"/><circle cx="283" cy="1172" r="8" fill="#a8a4a4" fill-opacity="0.26"/><circle cx="1196" cy="1668" r="8" fill="#a8a4a4" fill-opacity="0.14"/><circle cx="1084" cy="1073" r="9" fill="#a8a4a4" fill-opacity="0.26"/><circle cx="1451" cy="582" r="9" fill="#a8a4a4" fill-opacity="0.21"/><circle cx="740" cy="1161" r="12" fill="#a8a4a4" fill-opacity="0.16"/><circle cx="115" cy="316" r="12" fill="#a8a4a4" fill-opacity="0.23"/><circle cx="770" cy="1291" r="13" fill="#a8a4a4" fill-opacity="0.26"/><circle cx="1141" cy="615" r="9" fill="#a8a4a4" fill-opacity="0.09"/><circle cx="144" cy="1480" r="17" fill="#a8a4a4" fill-opacity="0.23"/><circle cx="257" cy="1157" r="8" fill="#a8a4a4" fill-opacity="0.26"/><circle cx="1142" cy="1299" r="14" fill="#a8a4a4" fill-opacity="0.16"/><circle cx="1454" cy="1639" r="10" fill="#a8a4a4" fill-opacity="0.17"/><circle cx="1268" cy="1188" r="12" fill="#a8a4a4" fill-opacity="0.17"/><circle cx="1648" cy="542" r="9" fill="#a8a4a4" fill-opacity="0.22"/><circle cx="529" cy="1536" r="11" fill="#a8a4a4" fill-opacity="0.26"/><circle cx="695" cy="1516" r="15" fill="#a8a4a4" fill-opacity="0.23"/><circle cx="427" cy="363" r="7" fill="#a8a4a4" fill-opacity="0.12"/><circle cx="1160" cy="203" r="10" fill="#a8a4a4" fill-opacity="0.19"/><circle cx="331" cy="627" r="10" fill="#a8a4a4" fill-opacity="0.22"/><ellipse cx="800" cy="720" rx="800" ry="580" fill="#55555a" fill-opacity="0.09"/><ellipse cx="140" cy="1530" rx="28" ry="28" fill="#c0b8b8" fill-opacity="0.35"/><ellipse cx="630" cy="1510" rx="18" ry="18" fill="#c0b8b8" fill-opacity="0.3"/><ellipse cx="1700" cy="660" rx="16" ry="16" fill="#c0b8b8" fill-opacity="0.3"/><ellipse cx="970" cy="1610" rx="16" ry="16" fill="#c0b8b8" fill-opacity="0.25"/></g><g transform="translate(34.1 102.3) scale(0.857)"><g filter="url(#bl4)"><path d="M80 590Q80 420 280 250" stroke="#70747c" stroke-width="14" stroke-opacity="0.6" stroke-linecap="round" fill="none"/><path d="M200 470Q250 275 340 300" stroke="#80848a" stroke-width="20" stroke-opacity="0.6" stroke-linecap="round" fill="none"/><path d="M350 220Q425 82 600 95" stroke="#6c7078" stroke-width="30" stroke-opacity="0.6" stroke-linecap="round" fill="none"/><path d="M600 95Q710 68 780 130" stroke="#6c7078" stroke-width="26" stroke-opacity="0.55" stroke-linecap="round" fill="none"/><path d="M930 70Q1000 -22 1070 95" stroke="#70747c" stroke-width="22" stroke-opacity="0.6" stroke-linecap="round" fill="none"/><path d="M450 180Q535 205 560 290" stroke="#60646c" stroke-width="30" stroke-opacity="0.6" stroke-linecap="round" fill="none"/><path d="M1460 480Q1580 520 1620 560" stroke="#8a8e94" stroke-width="30" stroke-opacity="0.7" stroke-linecap="round" fill="none"/><path d="M170 560L168 650" stroke="#a4a8ac" stroke-width="40" stroke-opacity="0.85" stroke-linecap="round" fill="none"/><path d="M1085 160L1100 230" stroke="#bcbcbe" stroke-width="52" stroke-opacity="0.9" stroke-linecap="round" fill="none"/><ellipse cx="900" cy="210" rx="260" ry="70" fill="#8c8e94" fill-opacity="0.3"/><ellipse cx="720" cy="860" rx="330" ry="330" fill="#d2d0cc" fill-opacity="0.95"/><ellipse cx="1390" cy="760" rx="330" ry="290" fill="#bec0c4" fill-opacity="0.95"/><ellipse cx="950" cy="480" rx="360" ry="230" fill="#c6c6c8" fill-opacity="0.95"/><ellipse cx="330" cy="960" rx="230" ry="270" fill="#b4b8bc" fill-opacity="0.9"/><ellipse cx="420" cy="580" rx="150" ry="200" fill="#b0b4b8" fill-opacity="0.85"/><ellipse cx="1560" cy="600" rx="130" ry="180" fill="#b4b8bc" fill-opacity="0.7"/><path d="M105 600Q68 750 140 860" stroke="#2c2e32" stroke-width="112" stroke-opacity="0.5" stroke-linecap="round" fill="none"/><path d="M105 600Q68 750 140 860" stroke="#cfcfcf" stroke-width="100" stroke-linecap="round" fill="none"/><path d="M110 920Q50 1025 110 1110" stroke="#2c2e32" stroke-width="112" stroke-opacity="0.5" stroke-linecap="round" fill="none"/><path d="M110 920Q50 1025 110 1110" stroke="#c8c8c8" stroke-width="100" stroke-linecap="round" fill="none"/><path d="M330 330Q280 570 470 610" stroke="#2c2e32" stroke-width="104" stroke-opacity="0.5" stroke-linecap="round" fill="none"/><path d="M330 330Q280 570 470 610" stroke="#c8caca" stroke-width="92" stroke-linecap="round" fill="none"/><path d="M1230 260Q1530 210 1510 480" stroke="#2c2e32" stroke-width="98" stroke-opacity="0.5" stroke-linecap="round" fill="none"/><path d="M1230 260Q1530 210 1510 480" stroke="#c4c6c8" stroke-width="86" stroke-linecap="round" fill="none"/><path d="M1500 300Q1550 338 1560 385" stroke="#2c2e32" stroke-width="62" stroke-opacity="0.5" stroke-linecap="round" fill="none"/><path d="M1500 300Q1550 338 1560 385" stroke="#cacaca" stroke-width="50" stroke-linecap="round" fill="none"/><path d="M1640 570Q1890 675 1740 880" stroke="#2c2e32" stroke-width="108" stroke-opacity="0.5" stroke-linecap="round" fill="none"/><path d="M1640 570Q1890 675 1740 880" stroke="#c0c4c6" stroke-width="96" stroke-linecap="round" fill="none"/><path d="M1680 800Q1715 885 1650 950" stroke="#2c2e32" stroke-width="72" stroke-opacity="0.5" stroke-linecap="round" fill="none"/><path d="M1680 800Q1715 885 1650 950" stroke="#b8bcc0" stroke-width="60" stroke-linecap="round" fill="none"/><path d="M220 1220Q420 1370 540 1200" stroke="#2c2e32" stroke-width="88" stroke-opacity="0.5" stroke-linecap="round" fill="none"/><path d="M220 1220Q420 1370 540 1200" stroke="#b8bcc0" stroke-width="76" stroke-linecap="round" fill="none"/><path d="M260 760Q355 660 470 720" stroke="#2c2e32" stroke-width="72" stroke-opacity="0.5" stroke-linecap="round" fill="none"/><path d="M260 760Q355 660 470 720" stroke="#cacaca" stroke-width="60" stroke-linecap="round" fill="none"/><path d="M330 780Q290 860 290 900" stroke="#2c2e32" stroke-width="94" stroke-opacity="0.5" stroke-linecap="round" fill="none"/><path d="M330 780Q290 860 290 900" stroke="#d2d2d2" stroke-width="82" stroke-linecap="round" fill="none"/><path d="M200 1100Q175 905 330 930" stroke="#2c2e32" stroke-width="84" stroke-opacity="0.5" stroke-linecap="round" fill="none"/><path d="M200 1100Q175 905 330 930" stroke="#c4c6c8" stroke-width="72" stroke-linecap="round" fill="none"/><path d="M270 1150Q305 1025 440 1040" stroke="#2c2e32" stroke-width="74" stroke-opacity="0.5" stroke-linecap="round" fill="none"/><path d="M270 1150Q305 1025 440 1040" stroke="#d0d0d0" stroke-width="62" stroke-linecap="round" fill="none"/><path d="M730 280Q640 430 790 580" stroke="#2c2e32" stroke-width="104" stroke-opacity="0.5" stroke-linecap="round" fill="none"/><path d="M730 280Q640 430 790 580" stroke="#d2d2d2" stroke-width="92" stroke-linecap="round" fill="none"/><path d="M850 270Q940 395 870 540" stroke="#2c2e32" stroke-width="98" stroke-opacity="0.5" stroke-linecap="round" fill="none"/><path d="M850 270Q940 395 870 540" stroke="#d6d6d4" stroke-width="86" stroke-linecap="round" fill="none"/><path d="M980 300Q1105 390 1010 600" stroke="#2c2e32" stroke-width="98" stroke-opacity="0.5" stroke-linecap="round" fill="none"/><path d="M980 300Q1105 390 1010 600" stroke="#cecece" stroke-width="86" stroke-linecap="round" fill="none"/><path d="M1130 340Q1275 430 1200 600" stroke="#2c2e32" stroke-width="98" stroke-opacity="0.5" stroke-linecap="round" fill="none"/><path d="M1130 340Q1275 430 1200 600" stroke="#d0d0d0" stroke-width="86" stroke-linecap="round" fill="none"/><path d="M620 340Q550 380 520 420" stroke="#2c2e32" stroke-width="76" stroke-opacity="0.5" stroke-linecap="round" fill="none"/><path d="M620 340Q550 380 520 420" stroke="#c8c8c8" stroke-width="64" stroke-linecap="round" fill="none"/><path d="M620 480Q635 508 670 545" stroke="#2c2e32" stroke-width="104" stroke-opacity="0.5" stroke-linecap="round" fill="none"/><path d="M620 480Q635 508 670 545" stroke="#d8d8d6" stroke-width="92" stroke-linecap="round" fill="none"/><path d="M500 430Q590 545 560 640" stroke="#2c2e32" stroke-width="74" stroke-opacity="0.5" stroke-linecap="round" fill="none"/><path d="M500 430Q590 545 560 640" stroke="#c4c6c8" stroke-width="62" stroke-linecap="round" fill="none"/><path d="M950 450Q945 565 1000 620" stroke="#2c2e32" stroke-width="82" stroke-opacity="0.5" stroke-linecap="round" fill="none"/><path d="M950 450Q945 565 1000 620" stroke="#d4d4d4" stroke-width="70" stroke-linecap="round" fill="none"/><path d="M1330 400Q1360 420 1390 440" stroke="#2c2e32" stroke-width="92" stroke-opacity="0.5" stroke-linecap="round" fill="none"/><path d="M1330 400Q1360 420 1390 440" stroke="#c0c0c2" stroke-width="80" stroke-linecap="round" fill="none"/><path d="M1390 970Q1780 1035 1690 800" stroke="#5a5c60" stroke-width="84" stroke-opacity="0.5" stroke-linecap="round" fill="none"/><path d="M1390 970Q1780 1035 1690 800" stroke="#caccce" stroke-width="74" stroke-linecap="round" fill="none"/><path d="M1390 970Q1695 965 1620 700" stroke="#5a5c60" stroke-width="84" stroke-opacity="0.5" stroke-linecap="round" fill="none"/><path d="M1390 970Q1695 965 1620 700" stroke="#caccce" stroke-width="74" stroke-linecap="round" fill="none"/><path d="M1390 970Q1620 895 1530 600" stroke="#5a5c60" stroke-width="84" stroke-opacity="0.5" stroke-linecap="round" fill="none"/><path d="M1390 970Q1620 895 1530 600" stroke="#caccce" stroke-width="74" stroke-linecap="round" fill="none"/><path d="M1390 970Q1515 820 1420 590" stroke="#5a5c60" stroke-width="84" stroke-opacity="0.5" stroke-linecap="round" fill="none"/><path d="M1390 970Q1515 820 1420 590" stroke="#caccce" stroke-width="74" stroke-linecap="round" fill="none"/><path d="M1390 970Q1410 770 1310 610" stroke="#5a5c60" stroke-width="84" stroke-opacity="0.5" stroke-linecap="round" fill="none"/><path d="M1390 970Q1410 770 1310 610" stroke="#caccce" stroke-width="74" stroke-linecap="round" fill="none"/><path d="M1390 970Q1255 955 1140 720" stroke="#5a5c60" stroke-width="84" stroke-opacity="0.5" stroke-linecap="round" fill="none"/><path d="M1390 970Q1255 955 1140 720" stroke="#caccce" stroke-width="74" stroke-linecap="round" fill="none"/><path d="M1390 970Q1175 1075 1060 880" stroke="#5a5c60" stroke-width="84" stroke-opacity="0.5" stroke-linecap="round" fill="none"/><path d="M1390 970Q1175 1075 1060 880" stroke="#caccce" stroke-width="74" stroke-linecap="round" fill="none"/><path d="M1390 970Q1255 1150 1100 1050" stroke="#5a5c60" stroke-width="84" stroke-opacity="0.5" stroke-linecap="round" fill="none"/><path d="M1390 970Q1255 1150 1100 1050" stroke="#caccce" stroke-width="74" stroke-linecap="round" fill="none"/><path d="M740 1040Q1130 1100 1000 760" stroke="#9a988e" stroke-width="90" stroke-opacity="0.5" stroke-linecap="round" fill="none"/><path d="M740 1040Q1130 1100 1000 760" stroke="#e6e4de" stroke-width="80" stroke-linecap="round" fill="none"/><path d="M740 1040Q990 935 880 690" stroke="#9a988e" stroke-width="90" stroke-opacity="0.5" stroke-linecap="round" fill="none"/><path d="M740 1040Q990 935 880 690" stroke="#e6e4de" stroke-width="80" stroke-linecap="round" fill="none"/><path d="M740 1040Q850 795 760 650" stroke="#9a988e" stroke-width="90" stroke-opacity="0.5" stroke-linecap="round" fill="none"/><path d="M740 1040Q850 795 760 650" stroke="#e6e4de" stroke-width="80" stroke-linecap="round" fill="none"/><path d="M740 1040Q710 790 640 660" stroke="#9a988e" stroke-width="90" stroke-opacity="0.5" stroke-linecap="round" fill="none"/><path d="M740 1040Q710 790 640 660" stroke="#e6e4de" stroke-width="80" stroke-linecap="round" fill="none"/><path d="M740 1040Q560 930 540 700" stroke="#9a988e" stroke-width="90" stroke-opacity="0.5" stroke-linecap="round" fill="none"/><path d="M740 1040Q560 930 540 700" stroke="#e6e4de" stroke-width="80" stroke-linecap="round" fill="none"/><path d="M740 1040Q360 1050 460 780" stroke="#9a988e" stroke-width="90" stroke-opacity="0.5" stroke-linecap="round" fill="none"/><path d="M740 1040Q360 1050 460 780" stroke="#e6e4de" stroke-width="80" stroke-linecap="round" fill="none"/><path d="M740 1040Q330 1180 440 1000" stroke="#9a988e" stroke-width="90" stroke-opacity="0.5" stroke-linecap="round" fill="none"/><path d="M740 1040Q330 1180 440 1000" stroke="#e6e4de" stroke-width="80" stroke-linecap="round" fill="none"/><path d="M740 1040Q510 1245 480 1110" stroke="#9a988e" stroke-width="90" stroke-opacity="0.5" stroke-linecap="round" fill="none"/><path d="M740 1040Q510 1245 480 1110" stroke="#e6e4de" stroke-width="80" stroke-linecap="round" fill="none"/><ellipse cx="730" cy="930" rx="190" ry="180" fill="#eceae4" fill-opacity="0.5"/><path d="M1150 1120L1140 1280" stroke="#a4a8ac" stroke-width="60" stroke-opacity="0.9" stroke-linecap="round" fill="none"/></g><g filter="url(#bl3)"><path d="M760 1090L800 1220" stroke="#fafafa" stroke-width="24" stroke-linecap="round" fill="none"/><ellipse cx="838" cy="1325" rx="48" ry="92" fill="#fcfcfc" transform="rotate(-20 838 1325)"/><path d="M1380 990L1320 1130" stroke="#fafafa" stroke-width="34" stroke-linecap="round" fill="none"/><ellipse cx="1258" cy="1240" rx="50" ry="98" fill="#fcfcfc" transform="rotate(30 1258 1240)"/></g></g><g filter="url(#bl5)"><ellipse cx="800" cy="1350" rx="40" ry="30" fill="#a8acb4" fill-opacity="0.7"/><ellipse cx="870" cy="1385" rx="55" ry="45" fill="#a8acb4" fill-opacity="0.7"/><ellipse cx="980" cy="1340" rx="70" ry="55" fill="#a8acb4" fill-opacity="0.75"/><ellipse cx="1020" cy="1300" rx="40" ry="40" fill="#a8acb4" fill-opacity="0.7"/><ellipse cx="1000" cy="1410" rx="60" ry="40" fill="#a8acb4" fill-opacity="0.7"/><ellipse cx="1220" cy="1400" rx="70" ry="80" fill="#a8acb4" fill-opacity="0.75"/><ellipse cx="1180" cy="1500" rx="70" ry="40" fill="#a8acb4" fill-opacity="0.75"/><ellipse cx="1340" cy="1480" rx="50" ry="50" fill="#a8acb4" fill-opacity="0.7"/><ellipse cx="1150" cy="1330" rx="40" ry="30" fill="#a8acb4" fill-opacity="0.5"/></g><g filter="url(#bl3)"><ellipse cx="1100" cy="1462" rx="58" ry="26" fill="#e8901c"/></g><path d="M1462 1562H1690M1462 1548V1576M1690 1548V1576" stroke="#f4f4f4" stroke-width="7" fill="none" stroke-opacity="0.95"/><text x="1576" y="1533" font-family='"Liberation Serif", serif' font-size="60" font-weight="bold" fill="#f4f4f4" fill-opacity="0.95" text-anchor="middle">500 μm</text></g>
<g transform="translate(1700,1715) scale(0.14661)"><rect x="55" y="65" width="1660" height="1655" fill="#030303"/><g filter="url(#bl6)"><circle cx="474" cy="904" r="7" fill="#a8a4a4" fill-opacity="0.22"/><circle cx="455" cy="984" r="13" fill="#a8a4a4" fill-opacity="0.15"/><circle cx="1648" cy="1270" r="10" fill="#a8a4a4" fill-opacity="0.19"/><circle cx="1029" cy="676" r="14" fill="#a8a4a4" fill-opacity="0.15"/><circle cx="1674" cy="1464" r="6" fill="#a8a4a4" fill-opacity="0.12"/><circle cx="854" cy="1403" r="7" fill="#a8a4a4" fill-opacity="0.18"/><circle cx="675" cy="1357" r="13" fill="#a8a4a4" fill-opacity="0.21"/><circle cx="393" cy="1316" r="10" fill="#a8a4a4" fill-opacity="0.22"/><circle cx="842" cy="1551" r="14" fill="#a8a4a4" fill-opacity="0.22"/><circle cx="1418" cy="1410" r="11" fill="#a8a4a4" fill-opacity="0.11"/><circle cx="1678" cy="843" r="6" fill="#a8a4a4" fill-opacity="0.15"/><circle cx="752" cy="421" r="14" fill="#a8a4a4" fill-opacity="0.10"/><circle cx="1545" cy="980" r="7" fill="#a8a4a4" fill-opacity="0.14"/><circle cx="810" cy="288" r="12" fill="#a8a4a4" fill-opacity="0.19"/><circle cx="1671" cy="1428" r="12" fill="#a8a4a4" fill-opacity="0.25"/><circle cx="1590" cy="1130" r="10" fill="#a8a4a4" fill-opacity="0.17"/><circle cx="1398" cy="1581" r="13" fill="#a8a4a4" fill-opacity="0.22"/><circle cx="124" cy="773" r="7" fill="#a8a4a4" fill-opacity="0.18"/><circle cx="1020" cy="997" r="13" fill="#a8a4a4" fill-opacity="0.12"/><circle cx="1261" cy="1038" r="8" fill="#a8a4a4" fill-opacity="0.25"/><circle cx="167" cy="844" r="10" fill="#a8a4a4" fill-opacity="0.18"/><circle cx="1671" cy="982" r="13" fill="#a8a4a4" fill-opacity="0.13"/><ellipse cx="920" cy="740" rx="620" ry="500" fill="#505054" fill-opacity="0.09"/></g><g transform="translate(272.8 102.3) scale(0.7142)"><g filter="url(#bl5)"><ellipse cx="560" cy="980" rx="400" ry="380" fill="#c6c6c8" fill-opacity="0.95"/><ellipse cx="1380" cy="840" rx="380" ry="340" fill="#c4c6c8" fill-opacity="0.95"/><ellipse cx="950" cy="800" rx="260" ry="260" fill="#cccccc" fill-opacity="0.95"/><path d="M940 110L1020 230L995 400L1005 560L900 690L780 570L800 380L860 220Z" fill="#dedede" stroke="#dedede" stroke-width="30" stroke-linejoin="round"/><path d="M215 560Q140 655 185 730" stroke="#3a3a3e" stroke-width="92" stroke-opacity="0.5" stroke-linecap="round" fill="none"/><path d="M215 560Q140 655 185 730" stroke="#b2b4b6" stroke-width="80" stroke-linecap="round" fill="none"/><path d="M290 620Q202 770 265 880" stroke="#3a3a3e" stroke-width="92" stroke-opacity="0.5" stroke-linecap="round" fill="none"/><path d="M290 620Q202 770 265 880" stroke="#c6c6c8" stroke-width="80" stroke-linecap="round" fill="none"/><path d="M390 590Q325 715 360 780" stroke="#3a3a3e" stroke-width="82" stroke-opacity="0.5" stroke-linecap="round" fill="none"/><path d="M390 590Q325 715 360 780" stroke="#c0c2c4" stroke-width="70" stroke-linecap="round" fill="none"/><path d="M1690 800Q1800 885 1690 1030" stroke="#3a3a3e" stroke-width="76" stroke-opacity="0.5" stroke-linecap="round" fill="none"/><path d="M1690 800Q1800 885 1690 1030" stroke="#c2c4c6" stroke-width="64" stroke-linecap="round" fill="none"/><path d="M1400 1090Q1480 1140 1640 1090" stroke="#3a3a3e" stroke-width="92" stroke-opacity="0.5" stroke-linecap="round" fill="none"/><path d="M1400 1090Q1480 1140 1640 1090" stroke="#d6d6d6" stroke-width="80" stroke-linecap="round" fill="none"/><path d="M230 1000Q30 1275 470 1330" stroke="#3a3a3e" stroke-width="104" stroke-opacity="0.5" stroke-linecap="round" fill="none"/><path d="M230 1000Q30 1275 470 1330" stroke="#c8c8ca" stroke-width="92" stroke-linecap="round" fill="none"/><path d="M320 960Q220 1205 520 1270" stroke="#3a3a3e" stroke-width="100" stroke-opacity="0.5" stroke-linecap="round" fill="none"/><path d="M320 960Q220 1205 520 1270" stroke="#d0d0d0" stroke-width="88" stroke-linecap="round" fill="none"/><path d="M440 800Q270 1025 580 1190" stroke="#3a3a3e" stroke-width="100" stroke-opacity="0.5" stroke-linecap="round" fill="none"/><path d="M440 800Q270 1025 580 1190" stroke="#d4d4d4" stroke-width="88" stroke-linecap="round" fill="none"/><path d="M530 700Q370 885 610 1130" stroke="#3a3a3e" stroke-width="96" stroke-opacity="0.5" stroke-linecap="round" fill="none"/><path d="M530 700Q370 885 610 1130" stroke="#d6d6d6" stroke-width="84" stroke-linecap="round" fill="none"/><path d="M630 800Q515 945 660 1110" stroke="#3a3a3e" stroke-width="92" stroke-opacity="0.5" stroke-linecap="round" fill="none"/><path d="M630 800Q515 945 660 1110" stroke="#dadada" stroke-width="80" stroke-linecap="round" fill="none"/><path d="M745 770Q665 905 725 1100" stroke="#3a3a3e" stroke-width="92" stroke-opacity="0.5" stroke-linecap="round" fill="none"/><path d="M745 770Q665 905 725 1100" stroke="#dcdcdc" stroke-width="80" stroke-linecap="round" fill="none"/><path d="M860 750Q845 865 770 1120" stroke="#3a3a3e" stroke-width="92" stroke-opacity="0.5" stroke-linecap="round" fill="none"/><path d="M860 750Q845 865 770 1120" stroke="#d8d8d8" stroke-width="80" stroke-linecap="round" fill="none"/><path d="M700 1235Q870 1308 1000 1150" stroke="#3a3a3e" stroke-width="92" stroke-opacity="0.5" stroke-linecap="round" fill="none"/><path d="M700 1235Q870 1308 1000 1150" stroke="#cfcfd1" stroke-width="80" stroke-linecap="round" fill="none"/><path d="M1180 680Q1020 870 1260 1060" stroke="#3a3a3e" stroke-width="102" stroke-opacity="0.5" stroke-linecap="round" fill="none"/><path d="M1180 680Q1020 870 1260 1060" stroke="#d6d6d6" stroke-width="90" stroke-linecap="round" fill="none"/><path d="M1300 640Q1455 775 1350 1010" stroke="#3a3a3e" stroke-width="100" stroke-opacity="0.5" stroke-linecap="round" fill="none"/><path d="M1300 640Q1455 775 1350 1010" stroke="#d2d2d4" stroke-width="88" stroke-linecap="round" fill="none"/><path d="M1440 580Q1610 735 1460 990" stroke="#3a3a3e" stroke-width="98" stroke-opacity="0.5" stroke-linecap="round" fill="none"/><path d="M1440 580Q1610 735 1460 990" stroke="#cecfd1" stroke-width="86" stroke-linecap="round" fill="none"/><path d="M1540 520Q1770 660 1600 960" stroke="#3a3a3e" stroke-width="102" stroke-opacity="0.5" stroke-linecap="round" fill="none"/><path d="M1540 520Q1770 660 1600 960" stroke="#c8cacc" stroke-width="90" stroke-linecap="round" fill="none"/><path d="M1060 1000Q1030 1150 1280 1180" stroke="#3a3a3e" stroke-width="96" stroke-opacity="0.5" stroke-linecap="round" fill="none"/><path d="M1060 1000Q1030 1150 1280 1180" stroke="#d4d4d4" stroke-width="84" stroke-linecap="round" fill="none"/><path d="M990 780Q939 890 972 1040" stroke="#f0eeea" stroke-width="108" stroke-linecap="round" fill="none"/><path d="M880 1290Q1075 1538 1290 1255" stroke="#c2c2c4" stroke-width="88" stroke-opacity="0.97" stroke-linecap="round" fill="none"/><path d="M850 1410Q902 1515 945 1560" stroke="#a4a6aa" stroke-width="52" stroke-opacity="0.85" stroke-linecap="round" fill="none"/><path d="M1250 1420Q1132 1500 1085 1580" stroke="#a4a6aa" stroke-width="52" stroke-opacity="0.85" stroke-linecap="round" fill="none"/></g><g filter="url(#bl4)"><ellipse cx="650" cy="1170" rx="52" ry="56" fill="#fafafa"/><path d="M685 1235L780 1365" stroke="#fafafa" stroke-width="30" stroke-linecap="round" fill="none"/><path d="M785 1370L825 1398" stroke="#fdfdfd" stroke-width="62" stroke-linecap="round" fill="none"/><ellipse cx="1335" cy="1320" rx="46" ry="105" fill="#fdfdfd" transform="rotate(28 1335 1320)"/><ellipse cx="1640" cy="1100" rx="30" ry="24" fill="#f0f0f0" fill-opacity="0.9"/></g></g><g filter="url(#bl5)"><ellipse cx="1000" cy="1300" rx="90" ry="80" fill="#a0a2a6" fill-opacity="0.75"/><ellipse cx="1010" cy="1400" rx="100" ry="60" fill="#b4b6b8" fill-opacity="0.8"/><ellipse cx="900" cy="1460" rx="70" ry="55" fill="#c8c8c8" fill-opacity="0.85"/><ellipse cx="890" cy="1260" rx="30" ry="30" fill="#909296" fill-opacity="0.5"/><ellipse cx="1020" cy="1340" rx="60" ry="12" fill="#c8c860" fill-opacity="0.9" transform="rotate(8 1020 1340)"/></g><path d="M1297 1475H1525M1297 1461V1489M1525 1461V1489" stroke="#f4f4f4" stroke-width="7" fill="none" stroke-opacity="0.95"/><text x="1411" y="1447" font-family='"Liberation Serif", serif' font-size="60" font-weight="bold" fill="#f4f4f4" fill-opacity="0.95" text-anchor="middle">500 μm</text></g>
</g>
<text transform="translate(1106.6 1619.0) scale(0.96 1)" font-size="50.6" fill="#ed1c24" >WI</text>
<text transform="translate(1095.6 1875.2) scale(0.96 1)" font-size="50.6" fill="#5eb3e4" >WU</text>
<text transform="translate(1314.8 2019.3) scale(0.975 1)" font-size="44.3" fill="#000" class="k" text-anchor="middle" >1d</text>
<text transform="translate(1589.4 2019.3) scale(0.975 1)" font-size="44.3" fill="#000" class="k" text-anchor="middle" >3d</text>
<text transform="translate(1868.8 2019.3) scale(0.975 1)" font-size="44.3" fill="#000" class="k" text-anchor="middle" >5d</text>
</svg>
</body></html>
